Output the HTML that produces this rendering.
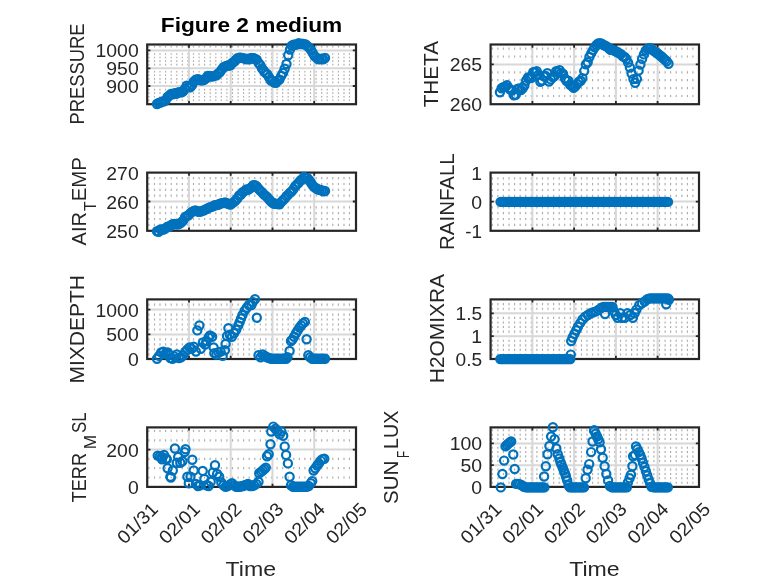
<!DOCTYPE html>
<html lang="en"><head><meta charset="utf-8"><title>Figure 2 medium</title>
<style>html,body{margin:0;padding:0;background:#fff}body{width:778px;height:583px;overflow:hidden}svg{display:block}</style>
</head><body>
<svg width="778" height="583" viewBox="0 0 778 583" font-family="'Liberation Sans', sans-serif" fill="#262626">
<rect width="778" height="583" fill="#fff"/>
<g>
<path d="M148.9 46.0v1.6M148.9 53.2v1.6M148.9 56.7v1.6M148.9 60.3v1.6M148.9 63.8v1.6M148.9 71.0v1.6M148.9 74.5v1.6M148.9 78.1v1.6M148.9 81.6v1.6M148.9 88.8v1.6M148.9 92.3v1.6M148.9 95.9v1.6M148.9 99.4v1.6M154.5 46.0v1.6M154.5 53.2v1.6M154.5 56.7v1.6M154.5 60.3v1.6M154.5 63.8v1.6M154.5 71.0v1.6M154.5 74.5v1.6M154.5 78.1v1.6M154.5 81.6v1.6M154.5 88.8v1.6M154.5 92.3v1.6M154.5 95.9v1.6M154.5 99.4v1.6M160.0 46.0v1.6M160.0 53.2v1.6M160.0 56.7v1.6M160.0 60.3v1.6M160.0 63.8v1.6M160.0 71.0v1.6M160.0 74.5v1.6M160.0 78.1v1.6M160.0 81.6v1.6M160.0 88.8v1.6M160.0 92.3v1.6M160.0 95.9v1.6M160.0 99.4v1.6M165.6 46.0v1.6M165.6 53.2v1.6M165.6 56.7v1.6M165.6 60.3v1.6M165.6 63.8v1.6M165.6 71.0v1.6M165.6 74.5v1.6M165.6 78.1v1.6M165.6 81.6v1.6M165.6 88.8v1.6M165.6 92.3v1.6M165.6 95.9v1.6M165.6 99.4v1.6M171.2 46.0v1.6M171.2 53.2v1.6M171.2 56.7v1.6M171.2 60.3v1.6M171.2 63.8v1.6M171.2 71.0v1.6M171.2 74.5v1.6M171.2 78.1v1.6M171.2 81.6v1.6M171.2 88.8v1.6M171.2 92.3v1.6M171.2 95.9v1.6M171.2 99.4v1.6M176.8 46.0v1.6M176.8 53.2v1.6M176.8 56.7v1.6M176.8 60.3v1.6M176.8 63.8v1.6M176.8 71.0v1.6M176.8 74.5v1.6M176.8 78.1v1.6M176.8 81.6v1.6M176.8 88.8v1.6M176.8 92.3v1.6M176.8 95.9v1.6M176.8 99.4v1.6M182.3 46.0v1.6M182.3 53.2v1.6M182.3 56.7v1.6M182.3 60.3v1.6M182.3 63.8v1.6M182.3 71.0v1.6M182.3 74.5v1.6M182.3 78.1v1.6M182.3 81.6v1.6M182.3 88.8v1.6M182.3 92.3v1.6M182.3 95.9v1.6M182.3 99.4v1.6M187.9 46.0v1.6M187.9 53.2v1.6M187.9 56.7v1.6M187.9 60.3v1.6M187.9 63.8v1.6M187.9 71.0v1.6M187.9 74.5v1.6M187.9 78.1v1.6M187.9 81.6v1.6M187.9 88.8v1.6M187.9 92.3v1.6M187.9 95.9v1.6M187.9 99.4v1.6M193.5 46.0v1.6M193.5 53.2v1.6M193.5 56.7v1.6M193.5 60.3v1.6M193.5 63.8v1.6M193.5 71.0v1.6M193.5 74.5v1.6M193.5 78.1v1.6M193.5 81.6v1.6M193.5 88.8v1.6M193.5 92.3v1.6M193.5 95.9v1.6M193.5 99.4v1.6M199.1 46.0v1.6M199.1 53.2v1.6M199.1 56.7v1.6M199.1 60.3v1.6M199.1 63.8v1.6M199.1 71.0v1.6M199.1 74.5v1.6M199.1 78.1v1.6M199.1 81.6v1.6M199.1 88.8v1.6M199.1 92.3v1.6M199.1 95.9v1.6M199.1 99.4v1.6M204.6 46.0v1.6M204.6 53.2v1.6M204.6 56.7v1.6M204.6 60.3v1.6M204.6 63.8v1.6M204.6 71.0v1.6M204.6 74.5v1.6M204.6 78.1v1.6M204.6 81.6v1.6M204.6 88.8v1.6M204.6 92.3v1.6M204.6 95.9v1.6M204.6 99.4v1.6M210.2 46.0v1.6M210.2 53.2v1.6M210.2 56.7v1.6M210.2 60.3v1.6M210.2 63.8v1.6M210.2 71.0v1.6M210.2 74.5v1.6M210.2 78.1v1.6M210.2 81.6v1.6M210.2 88.8v1.6M210.2 92.3v1.6M210.2 95.9v1.6M210.2 99.4v1.6M215.8 46.0v1.6M215.8 53.2v1.6M215.8 56.7v1.6M215.8 60.3v1.6M215.8 63.8v1.6M215.8 71.0v1.6M215.8 74.5v1.6M215.8 78.1v1.6M215.8 81.6v1.6M215.8 88.8v1.6M215.8 92.3v1.6M215.8 95.9v1.6M215.8 99.4v1.6M221.3 46.0v1.6M221.3 53.2v1.6M221.3 56.7v1.6M221.3 60.3v1.6M221.3 63.8v1.6M221.3 71.0v1.6M221.3 74.5v1.6M221.3 78.1v1.6M221.3 81.6v1.6M221.3 88.8v1.6M221.3 92.3v1.6M221.3 95.9v1.6M221.3 99.4v1.6M226.9 46.0v1.6M226.9 53.2v1.6M226.9 56.7v1.6M226.9 60.3v1.6M226.9 63.8v1.6M226.9 71.0v1.6M226.9 74.5v1.6M226.9 78.1v1.6M226.9 81.6v1.6M226.9 88.8v1.6M226.9 92.3v1.6M226.9 95.9v1.6M226.9 99.4v1.6M232.5 46.0v1.6M232.5 53.2v1.6M232.5 56.7v1.6M232.5 60.3v1.6M232.5 63.8v1.6M232.5 71.0v1.6M232.5 74.5v1.6M232.5 78.1v1.6M232.5 81.6v1.6M232.5 88.8v1.6M232.5 92.3v1.6M232.5 95.9v1.6M232.5 99.4v1.6M238.1 46.0v1.6M238.1 53.2v1.6M238.1 56.7v1.6M238.1 60.3v1.6M238.1 63.8v1.6M238.1 71.0v1.6M238.1 74.5v1.6M238.1 78.1v1.6M238.1 81.6v1.6M238.1 88.8v1.6M238.1 92.3v1.6M238.1 95.9v1.6M238.1 99.4v1.6M243.6 46.0v1.6M243.6 53.2v1.6M243.6 56.7v1.6M243.6 60.3v1.6M243.6 63.8v1.6M243.6 71.0v1.6M243.6 74.5v1.6M243.6 78.1v1.6M243.6 81.6v1.6M243.6 88.8v1.6M243.6 92.3v1.6M243.6 95.9v1.6M243.6 99.4v1.6M249.2 46.0v1.6M249.2 53.2v1.6M249.2 56.7v1.6M249.2 60.3v1.6M249.2 63.8v1.6M249.2 71.0v1.6M249.2 74.5v1.6M249.2 78.1v1.6M249.2 81.6v1.6M249.2 88.8v1.6M249.2 92.3v1.6M249.2 95.9v1.6M249.2 99.4v1.6M254.8 46.0v1.6M254.8 53.2v1.6M254.8 56.7v1.6M254.8 60.3v1.6M254.8 63.8v1.6M254.8 71.0v1.6M254.8 74.5v1.6M254.8 78.1v1.6M254.8 81.6v1.6M254.8 88.8v1.6M254.8 92.3v1.6M254.8 95.9v1.6M254.8 99.4v1.6M260.4 46.0v1.6M260.4 53.2v1.6M260.4 56.7v1.6M260.4 60.3v1.6M260.4 63.8v1.6M260.4 71.0v1.6M260.4 74.5v1.6M260.4 78.1v1.6M260.4 81.6v1.6M260.4 88.8v1.6M260.4 92.3v1.6M260.4 95.9v1.6M260.4 99.4v1.6M265.9 46.0v1.6M265.9 53.2v1.6M265.9 56.7v1.6M265.9 60.3v1.6M265.9 63.8v1.6M265.9 71.0v1.6M265.9 74.5v1.6M265.9 78.1v1.6M265.9 81.6v1.6M265.9 88.8v1.6M265.9 92.3v1.6M265.9 95.9v1.6M265.9 99.4v1.6M271.5 46.0v1.6M271.5 53.2v1.6M271.5 56.7v1.6M271.5 60.3v1.6M271.5 63.8v1.6M271.5 71.0v1.6M271.5 74.5v1.6M271.5 78.1v1.6M271.5 81.6v1.6M271.5 88.8v1.6M271.5 92.3v1.6M271.5 95.9v1.6M271.5 99.4v1.6M277.1 46.0v1.6M277.1 53.2v1.6M277.1 56.7v1.6M277.1 60.3v1.6M277.1 63.8v1.6M277.1 71.0v1.6M277.1 74.5v1.6M277.1 78.1v1.6M277.1 81.6v1.6M277.1 88.8v1.6M277.1 92.3v1.6M277.1 95.9v1.6M277.1 99.4v1.6M282.7 46.0v1.6M282.7 53.2v1.6M282.7 56.7v1.6M282.7 60.3v1.6M282.7 63.8v1.6M282.7 71.0v1.6M282.7 74.5v1.6M282.7 78.1v1.6M282.7 81.6v1.6M282.7 88.8v1.6M282.7 92.3v1.6M282.7 95.9v1.6M282.7 99.4v1.6M288.2 46.0v1.6M288.2 53.2v1.6M288.2 56.7v1.6M288.2 60.3v1.6M288.2 63.8v1.6M288.2 71.0v1.6M288.2 74.5v1.6M288.2 78.1v1.6M288.2 81.6v1.6M288.2 88.8v1.6M288.2 92.3v1.6M288.2 95.9v1.6M288.2 99.4v1.6M293.8 46.0v1.6M293.8 53.2v1.6M293.8 56.7v1.6M293.8 60.3v1.6M293.8 63.8v1.6M293.8 71.0v1.6M293.8 74.5v1.6M293.8 78.1v1.6M293.8 81.6v1.6M293.8 88.8v1.6M293.8 92.3v1.6M293.8 95.9v1.6M293.8 99.4v1.6M299.4 46.0v1.6M299.4 53.2v1.6M299.4 56.7v1.6M299.4 60.3v1.6M299.4 63.8v1.6M299.4 71.0v1.6M299.4 74.5v1.6M299.4 78.1v1.6M299.4 81.6v1.6M299.4 88.8v1.6M299.4 92.3v1.6M299.4 95.9v1.6M299.4 99.4v1.6M304.9 46.0v1.6M304.9 53.2v1.6M304.9 56.7v1.6M304.9 60.3v1.6M304.9 63.8v1.6M304.9 71.0v1.6M304.9 74.5v1.6M304.9 78.1v1.6M304.9 81.6v1.6M304.9 88.8v1.6M304.9 92.3v1.6M304.9 95.9v1.6M304.9 99.4v1.6M310.5 46.0v1.6M310.5 53.2v1.6M310.5 56.7v1.6M310.5 60.3v1.6M310.5 63.8v1.6M310.5 71.0v1.6M310.5 74.5v1.6M310.5 78.1v1.6M310.5 81.6v1.6M310.5 88.8v1.6M310.5 92.3v1.6M310.5 95.9v1.6M310.5 99.4v1.6M316.1 46.0v1.6M316.1 53.2v1.6M316.1 56.7v1.6M316.1 60.3v1.6M316.1 63.8v1.6M316.1 71.0v1.6M316.1 74.5v1.6M316.1 78.1v1.6M316.1 81.6v1.6M316.1 88.8v1.6M316.1 92.3v1.6M316.1 95.9v1.6M316.1 99.4v1.6M321.7 46.0v1.6M321.7 53.2v1.6M321.7 56.7v1.6M321.7 60.3v1.6M321.7 63.8v1.6M321.7 71.0v1.6M321.7 74.5v1.6M321.7 78.1v1.6M321.7 81.6v1.6M321.7 88.8v1.6M321.7 92.3v1.6M321.7 95.9v1.6M321.7 99.4v1.6M327.2 46.0v1.6M327.2 53.2v1.6M327.2 56.7v1.6M327.2 60.3v1.6M327.2 63.8v1.6M327.2 71.0v1.6M327.2 74.5v1.6M327.2 78.1v1.6M327.2 81.6v1.6M327.2 88.8v1.6M327.2 92.3v1.6M327.2 95.9v1.6M327.2 99.4v1.6M332.8 46.0v1.6M332.8 53.2v1.6M332.8 56.7v1.6M332.8 60.3v1.6M332.8 63.8v1.6M332.8 71.0v1.6M332.8 74.5v1.6M332.8 78.1v1.6M332.8 81.6v1.6M332.8 88.8v1.6M332.8 92.3v1.6M332.8 95.9v1.6M332.8 99.4v1.6M338.4 46.0v1.6M338.4 53.2v1.6M338.4 56.7v1.6M338.4 60.3v1.6M338.4 63.8v1.6M338.4 71.0v1.6M338.4 74.5v1.6M338.4 78.1v1.6M338.4 81.6v1.6M338.4 88.8v1.6M338.4 92.3v1.6M338.4 95.9v1.6M338.4 99.4v1.6M344.0 46.0v1.6M344.0 53.2v1.6M344.0 56.7v1.6M344.0 60.3v1.6M344.0 63.8v1.6M344.0 71.0v1.6M344.0 74.5v1.6M344.0 78.1v1.6M344.0 81.6v1.6M344.0 88.8v1.6M344.0 92.3v1.6M344.0 95.9v1.6M344.0 99.4v1.6M349.5 46.0v1.6M349.5 53.2v1.6M349.5 56.7v1.6M349.5 60.3v1.6M349.5 63.8v1.6M349.5 71.0v1.6M349.5 74.5v1.6M349.5 78.1v1.6M349.5 81.6v1.6M349.5 88.8v1.6M349.5 92.3v1.6M349.5 95.9v1.6M349.5 99.4v1.6" stroke="#b2b2b2" stroke-width="1.2" fill="none"/>
<path d="M148.9 44.5V104.2M154.5 44.5V104.2M160.0 44.5V104.2M165.6 44.5V104.2M171.2 44.5V104.2M176.8 44.5V104.2M182.3 44.5V104.2M187.9 44.5V104.2M193.5 44.5V104.2M199.1 44.5V104.2M204.6 44.5V104.2M210.2 44.5V104.2M215.8 44.5V104.2M221.3 44.5V104.2M226.9 44.5V104.2M232.5 44.5V104.2M238.1 44.5V104.2M243.6 44.5V104.2M249.2 44.5V104.2M254.8 44.5V104.2M260.4 44.5V104.2M265.9 44.5V104.2M271.5 44.5V104.2M277.1 44.5V104.2M282.7 44.5V104.2M288.2 44.5V104.2M293.8 44.5V104.2M299.4 44.5V104.2M304.9 44.5V104.2M310.5 44.5V104.2M316.1 44.5V104.2M321.7 44.5V104.2M327.2 44.5V104.2M332.8 44.5V104.2M338.4 44.5V104.2M344.0 44.5V104.2M349.5 44.5V104.2" stroke="#000" stroke-width="1" fill="none" opacity="0.015"/>
<path d="M189.0 44.5V104.2M230.7 44.5V104.2M272.5 44.5V104.2M314.2 44.5V104.2M147.2 50.4H356.0M147.2 68.3H356.0M147.2 86.0H356.0" stroke="#d8d8d8" stroke-width="2" fill="none"/>
<path d="M189.0 44.5v3.2M189.0 104.2v-3.2M230.7 44.5v3.2M230.7 104.2v-3.2M272.5 44.5v3.2M272.5 104.2v-3.2M314.2 44.5v3.2M314.2 104.2v-3.2M147.2 50.4h3.2M356.0 50.4h-3.2M147.2 68.3h3.2M356.0 68.3h-3.2M147.2 86.0h3.2M356.0 86.0h-3.2" stroke="#262626" stroke-width="1.8" fill="none"/>
<rect x="147.2" y="44.5" width="208.8" height="59.7" fill="none" stroke="#262626" stroke-width="2.2"/>
<g fill="none" stroke="#0072BD" stroke-width="2.2">
<circle cx="157.0" cy="104.0" r="4.1"/><circle cx="158.7" cy="103.0" r="4.1"/><circle cx="160.5" cy="102.5" r="4.1"/><circle cx="162.2" cy="101.6" r="4.1"/><circle cx="164.0" cy="101.3" r="4.1"/><circle cx="165.7" cy="100.2" r="4.1"/><circle cx="167.5" cy="97.0" r="4.1"/><circle cx="169.2" cy="95.6" r="4.1"/><circle cx="171.0" cy="94.0" r="4.1"/><circle cx="172.7" cy="94.3" r="4.1"/><circle cx="174.5" cy="93.3" r="4.1"/><circle cx="176.2" cy="93.7" r="4.1"/><circle cx="178.0" cy="92.4" r="4.1"/><circle cx="179.7" cy="92.2" r="4.1"/><circle cx="181.5" cy="92.2" r="4.1"/><circle cx="183.2" cy="91.3" r="4.1"/><circle cx="185.0" cy="88.7" r="4.1"/><circle cx="186.7" cy="85.7" r="4.1"/><circle cx="188.5" cy="86.9" r="4.1"/><circle cx="190.2" cy="87.4" r="4.1"/><circle cx="192.0" cy="85.3" r="4.1"/><circle cx="193.7" cy="81.7" r="4.1"/><circle cx="195.5" cy="80.0" r="4.1"/><circle cx="197.2" cy="79.3" r="4.1"/><circle cx="199.0" cy="79.4" r="4.1"/><circle cx="200.7" cy="80.4" r="4.1"/><circle cx="202.5" cy="80.4" r="4.1"/><circle cx="204.2" cy="79.9" r="4.1"/><circle cx="206.0" cy="78.2" r="4.1"/><circle cx="207.7" cy="76.0" r="4.1"/><circle cx="209.5" cy="76.0" r="4.1"/><circle cx="211.2" cy="76.6" r="4.1"/><circle cx="213.0" cy="76.3" r="4.1"/><circle cx="214.7" cy="75.6" r="4.1"/><circle cx="216.5" cy="75.3" r="4.1"/><circle cx="218.2" cy="73.5" r="4.1"/><circle cx="220.0" cy="72.1" r="4.1"/><circle cx="221.7" cy="69.6" r="4.1"/><circle cx="223.5" cy="67.2" r="4.1"/><circle cx="225.2" cy="66.4" r="4.1"/><circle cx="227.0" cy="65.8" r="4.1"/><circle cx="228.7" cy="65.5" r="4.1"/><circle cx="230.5" cy="65.2" r="4.1"/><circle cx="232.2" cy="63.0" r="4.1"/><circle cx="234.0" cy="61.9" r="4.1"/><circle cx="235.7" cy="60.0" r="4.1"/><circle cx="237.5" cy="58.2" r="4.1"/><circle cx="239.2" cy="57.8" r="4.1"/><circle cx="241.0" cy="57.8" r="4.1"/><circle cx="242.7" cy="58.1" r="4.1"/><circle cx="244.5" cy="58.4" r="4.1"/><circle cx="246.2" cy="59.2" r="4.1"/><circle cx="248.0" cy="58.6" r="4.1"/><circle cx="249.7" cy="59.3" r="4.1"/><circle cx="251.5" cy="58.0" r="4.1"/><circle cx="253.2" cy="58.2" r="4.1"/><circle cx="255.0" cy="58.6" r="4.1"/><circle cx="256.7" cy="59.7" r="4.1"/><circle cx="258.5" cy="62.9" r="4.1"/><circle cx="260.2" cy="64.9" r="4.1"/><circle cx="262.0" cy="68.4" r="4.1"/><circle cx="263.7" cy="70.7" r="4.1"/><circle cx="265.5" cy="72.9" r="4.1"/><circle cx="267.2" cy="74.3" r="4.1"/><circle cx="269.0" cy="77.3" r="4.1"/><circle cx="270.7" cy="80.3" r="4.1"/><circle cx="272.5" cy="81.1" r="4.1"/><circle cx="274.2" cy="82.6" r="4.1"/><circle cx="276.0" cy="82.8" r="4.1"/><circle cx="277.7" cy="80.5" r="4.1"/><circle cx="279.5" cy="79.6" r="4.1"/><circle cx="281.2" cy="75.9" r="4.1"/><circle cx="283.0" cy="72.9" r="4.1"/><circle cx="284.7" cy="68.7" r="4.1"/><circle cx="286.5" cy="64.0" r="4.1"/><circle cx="288.2" cy="55.3" r="4.1"/><circle cx="290.0" cy="49.5" r="4.1"/><circle cx="291.7" cy="45.7" r="4.1"/><circle cx="293.5" cy="44.7" r="4.1"/><circle cx="295.2" cy="44.7" r="4.1"/><circle cx="297.0" cy="44.2" r="4.1"/><circle cx="298.7" cy="43.2" r="4.1"/><circle cx="300.5" cy="44.1" r="4.1"/><circle cx="302.2" cy="43.6" r="4.1"/><circle cx="304.0" cy="44.2" r="4.1"/><circle cx="305.7" cy="44.5" r="4.1"/><circle cx="307.5" cy="46.1" r="4.1"/><circle cx="309.2" cy="47.8" r="4.1"/><circle cx="311.0" cy="49.9" r="4.1"/><circle cx="312.7" cy="52.9" r="4.1"/><circle cx="314.5" cy="56.0" r="4.1"/><circle cx="316.2" cy="57.4" r="4.1"/><circle cx="318.0" cy="59.0" r="4.1"/><circle cx="319.7" cy="59.4" r="4.1"/><circle cx="321.5" cy="58.6" r="4.1"/><circle cx="323.2" cy="59.2" r="4.1"/><circle cx="325.0" cy="58.0" r="4.1"/>
</g>
<text x="138.7" y="57.4" font-size="18.6" text-anchor="end" textLength="43.2" lengthAdjust="spacingAndGlyphs">1000</text>
<text x="138.7" y="75.3" font-size="18.6" text-anchor="end" textLength="32.4" lengthAdjust="spacingAndGlyphs">950</text>
<text x="138.7" y="93.0" font-size="18.6" text-anchor="end" textLength="32.4" lengthAdjust="spacingAndGlyphs">900</text>
</g>
<g>
<path d="M492.3 47.5v2.2M492.3 55.4v2.2M492.3 71.2v2.2M492.3 79.1v2.2M492.3 87.0v2.2M492.3 94.9v2.2M497.9 47.5v2.2M497.9 55.4v2.2M497.9 71.2v2.2M497.9 79.1v2.2M497.9 87.0v2.2M497.9 94.9v2.2M503.4 47.5v2.2M503.4 55.4v2.2M503.4 71.2v2.2M503.4 79.1v2.2M503.4 87.0v2.2M503.4 94.9v2.2M509.0 47.5v2.2M509.0 55.4v2.2M509.0 71.2v2.2M509.0 79.1v2.2M509.0 87.0v2.2M509.0 94.9v2.2M514.6 47.5v2.2M514.6 55.4v2.2M514.6 71.2v2.2M514.6 79.1v2.2M514.6 87.0v2.2M514.6 94.9v2.2M520.2 47.5v2.2M520.2 55.4v2.2M520.2 71.2v2.2M520.2 79.1v2.2M520.2 87.0v2.2M520.2 94.9v2.2M525.7 47.5v2.2M525.7 55.4v2.2M525.7 71.2v2.2M525.7 79.1v2.2M525.7 87.0v2.2M525.7 94.9v2.2M531.3 47.5v2.2M531.3 55.4v2.2M531.3 71.2v2.2M531.3 79.1v2.2M531.3 87.0v2.2M531.3 94.9v2.2M536.9 47.5v2.2M536.9 55.4v2.2M536.9 71.2v2.2M536.9 79.1v2.2M536.9 87.0v2.2M536.9 94.9v2.2M542.5 47.5v2.2M542.5 55.4v2.2M542.5 71.2v2.2M542.5 79.1v2.2M542.5 87.0v2.2M542.5 94.9v2.2M548.0 47.5v2.2M548.0 55.4v2.2M548.0 71.2v2.2M548.0 79.1v2.2M548.0 87.0v2.2M548.0 94.9v2.2M553.6 47.5v2.2M553.6 55.4v2.2M553.6 71.2v2.2M553.6 79.1v2.2M553.6 87.0v2.2M553.6 94.9v2.2M559.2 47.5v2.2M559.2 55.4v2.2M559.2 71.2v2.2M559.2 79.1v2.2M559.2 87.0v2.2M559.2 94.9v2.2M564.7 47.5v2.2M564.7 55.4v2.2M564.7 71.2v2.2M564.7 79.1v2.2M564.7 87.0v2.2M564.7 94.9v2.2M570.3 47.5v2.2M570.3 55.4v2.2M570.3 71.2v2.2M570.3 79.1v2.2M570.3 87.0v2.2M570.3 94.9v2.2M575.9 47.5v2.2M575.9 55.4v2.2M575.9 71.2v2.2M575.9 79.1v2.2M575.9 87.0v2.2M575.9 94.9v2.2M581.5 47.5v2.2M581.5 55.4v2.2M581.5 71.2v2.2M581.5 79.1v2.2M581.5 87.0v2.2M581.5 94.9v2.2M587.0 47.5v2.2M587.0 55.4v2.2M587.0 71.2v2.2M587.0 79.1v2.2M587.0 87.0v2.2M587.0 94.9v2.2M592.6 47.5v2.2M592.6 55.4v2.2M592.6 71.2v2.2M592.6 79.1v2.2M592.6 87.0v2.2M592.6 94.9v2.2M598.2 47.5v2.2M598.2 55.4v2.2M598.2 71.2v2.2M598.2 79.1v2.2M598.2 87.0v2.2M598.2 94.9v2.2M603.8 47.5v2.2M603.8 55.4v2.2M603.8 71.2v2.2M603.8 79.1v2.2M603.8 87.0v2.2M603.8 94.9v2.2M609.3 47.5v2.2M609.3 55.4v2.2M609.3 71.2v2.2M609.3 79.1v2.2M609.3 87.0v2.2M609.3 94.9v2.2M614.9 47.5v2.2M614.9 55.4v2.2M614.9 71.2v2.2M614.9 79.1v2.2M614.9 87.0v2.2M614.9 94.9v2.2M620.5 47.5v2.2M620.5 55.4v2.2M620.5 71.2v2.2M620.5 79.1v2.2M620.5 87.0v2.2M620.5 94.9v2.2M626.1 47.5v2.2M626.1 55.4v2.2M626.1 71.2v2.2M626.1 79.1v2.2M626.1 87.0v2.2M626.1 94.9v2.2M631.6 47.5v2.2M631.6 55.4v2.2M631.6 71.2v2.2M631.6 79.1v2.2M631.6 87.0v2.2M631.6 94.9v2.2M637.2 47.5v2.2M637.2 55.4v2.2M637.2 71.2v2.2M637.2 79.1v2.2M637.2 87.0v2.2M637.2 94.9v2.2M642.8 47.5v2.2M642.8 55.4v2.2M642.8 71.2v2.2M642.8 79.1v2.2M642.8 87.0v2.2M642.8 94.9v2.2M648.3 47.5v2.2M648.3 55.4v2.2M648.3 71.2v2.2M648.3 79.1v2.2M648.3 87.0v2.2M648.3 94.9v2.2M653.9 47.5v2.2M653.9 55.4v2.2M653.9 71.2v2.2M653.9 79.1v2.2M653.9 87.0v2.2M653.9 94.9v2.2M659.5 47.5v2.2M659.5 55.4v2.2M659.5 71.2v2.2M659.5 79.1v2.2M659.5 87.0v2.2M659.5 94.9v2.2M665.1 47.5v2.2M665.1 55.4v2.2M665.1 71.2v2.2M665.1 79.1v2.2M665.1 87.0v2.2M665.1 94.9v2.2M670.6 47.5v2.2M670.6 55.4v2.2M670.6 71.2v2.2M670.6 79.1v2.2M670.6 87.0v2.2M670.6 94.9v2.2M676.2 47.5v2.2M676.2 55.4v2.2M676.2 71.2v2.2M676.2 79.1v2.2M676.2 87.0v2.2M676.2 94.9v2.2M681.8 47.5v2.2M681.8 55.4v2.2M681.8 71.2v2.2M681.8 79.1v2.2M681.8 87.0v2.2M681.8 94.9v2.2M687.4 47.5v2.2M687.4 55.4v2.2M687.4 71.2v2.2M687.4 79.1v2.2M687.4 87.0v2.2M687.4 94.9v2.2M692.9 47.5v2.2M692.9 55.4v2.2M692.9 71.2v2.2M692.9 79.1v2.2M692.9 87.0v2.2M692.9 94.9v2.2" stroke="#b2b2b2" stroke-width="1.2" fill="none"/>
<path d="M492.3 44.5V104.2M497.9 44.5V104.2M503.4 44.5V104.2M509.0 44.5V104.2M514.6 44.5V104.2M520.2 44.5V104.2M525.7 44.5V104.2M531.3 44.5V104.2M536.9 44.5V104.2M542.5 44.5V104.2M548.0 44.5V104.2M553.6 44.5V104.2M559.2 44.5V104.2M564.7 44.5V104.2M570.3 44.5V104.2M575.9 44.5V104.2M581.5 44.5V104.2M587.0 44.5V104.2M592.6 44.5V104.2M598.2 44.5V104.2M603.8 44.5V104.2M609.3 44.5V104.2M614.9 44.5V104.2M620.5 44.5V104.2M626.1 44.5V104.2M631.6 44.5V104.2M637.2 44.5V104.2M642.8 44.5V104.2M648.3 44.5V104.2M653.9 44.5V104.2M659.5 44.5V104.2M665.1 44.5V104.2M670.6 44.5V104.2M676.2 44.5V104.2M681.8 44.5V104.2M687.4 44.5V104.2M692.9 44.5V104.2" stroke="#000" stroke-width="1" fill="none" opacity="0.015"/>
<path d="M532.4 44.5V104.2M574.1 44.5V104.2M615.9 44.5V104.2M657.6 44.5V104.2M490.6 64.4H699.0" stroke="#d8d8d8" stroke-width="2" fill="none"/>
<path d="M532.4 44.5v3.2M532.4 104.2v-3.2M574.1 44.5v3.2M574.1 104.2v-3.2M615.9 44.5v3.2M615.9 104.2v-3.2M657.6 44.5v3.2M657.6 104.2v-3.2M490.6 64.4h3.2M699.0 64.4h-3.2" stroke="#262626" stroke-width="1.8" fill="none"/>
<rect x="490.6" y="44.5" width="208.4" height="59.7" fill="none" stroke="#262626" stroke-width="2.2"/>
<g fill="none" stroke="#0072BD" stroke-width="2.2">
<circle cx="499.9" cy="92.3" r="4.1"/><circle cx="501.6" cy="88.2" r="4.1"/><circle cx="503.4" cy="87.3" r="4.1"/><circle cx="505.1" cy="86.6" r="4.1"/><circle cx="506.9" cy="85.3" r="4.1"/><circle cx="508.6" cy="87.9" r="4.1"/><circle cx="510.4" cy="89.9" r="4.1"/><circle cx="512.1" cy="90.5" r="4.1"/><circle cx="513.9" cy="95.3" r="4.1"/><circle cx="515.7" cy="94.7" r="4.1"/><circle cx="517.4" cy="89.0" r="4.1"/><circle cx="519.2" cy="88.4" r="4.1"/><circle cx="520.9" cy="90.0" r="4.1"/><circle cx="522.7" cy="88.3" r="4.1"/><circle cx="524.4" cy="85.6" r="4.1"/><circle cx="526.2" cy="80.5" r="4.1"/><circle cx="528.0" cy="77.5" r="4.1"/><circle cx="529.7" cy="77.6" r="4.1"/><circle cx="531.5" cy="77.7" r="4.1"/><circle cx="533.2" cy="72.2" r="4.1"/><circle cx="535.0" cy="72.2" r="4.1"/><circle cx="536.7" cy="71.1" r="4.1"/><circle cx="538.5" cy="74.8" r="4.1"/><circle cx="540.3" cy="81.7" r="4.1"/><circle cx="542.0" cy="80.6" r="4.1"/><circle cx="543.8" cy="76.4" r="4.1"/><circle cx="545.5" cy="76.0" r="4.1"/><circle cx="547.3" cy="73.2" r="4.1"/><circle cx="549.0" cy="81.6" r="4.1"/><circle cx="550.8" cy="79.4" r="4.1"/><circle cx="552.6" cy="77.1" r="4.1"/><circle cx="554.3" cy="76.4" r="4.1"/><circle cx="556.1" cy="71.3" r="4.1"/><circle cx="557.8" cy="72.0" r="4.1"/><circle cx="559.6" cy="70.1" r="4.1"/><circle cx="561.3" cy="72.7" r="4.1"/><circle cx="563.1" cy="73.9" r="4.1"/><circle cx="564.9" cy="78.6" r="4.1"/><circle cx="566.6" cy="81.0" r="4.1"/><circle cx="568.4" cy="80.8" r="4.1"/><circle cx="570.1" cy="84.7" r="4.1"/><circle cx="571.9" cy="85.8" r="4.1"/><circle cx="573.6" cy="87.9" r="4.1"/><circle cx="575.4" cy="86.2" r="4.1"/><circle cx="577.1" cy="84.1" r="4.1"/><circle cx="578.9" cy="81.8" r="4.1"/><circle cx="580.7" cy="80.7" r="4.1"/><circle cx="582.4" cy="78.1" r="4.1"/><circle cx="584.2" cy="71.1" r="4.1"/><circle cx="585.9" cy="64.4" r="4.1"/><circle cx="587.7" cy="62.2" r="4.1"/><circle cx="589.4" cy="57.0" r="4.1"/><circle cx="591.2" cy="53.4" r="4.1"/><circle cx="593.0" cy="50.1" r="4.1"/><circle cx="594.7" cy="47.4" r="4.1"/><circle cx="596.5" cy="45.0" r="4.1"/><circle cx="598.2" cy="43.5" r="4.1"/><circle cx="600.0" cy="43.3" r="4.1"/><circle cx="601.7" cy="43.8" r="4.1"/><circle cx="603.5" cy="45.0" r="4.1"/><circle cx="605.3" cy="45.8" r="4.1"/><circle cx="607.0" cy="46.6" r="4.1"/><circle cx="608.8" cy="48.2" r="4.1"/><circle cx="610.5" cy="49.8" r="4.1"/><circle cx="612.3" cy="49.8" r="4.1"/><circle cx="614.0" cy="50.5" r="4.1"/><circle cx="615.8" cy="51.3" r="4.1"/><circle cx="617.6" cy="52.2" r="4.1"/><circle cx="619.3" cy="53.4" r="4.1"/><circle cx="621.1" cy="54.1" r="4.1"/><circle cx="622.8" cy="56.4" r="4.1"/><circle cx="624.6" cy="57.0" r="4.1"/><circle cx="626.3" cy="58.9" r="4.1"/><circle cx="628.1" cy="62.6" r="4.1"/><circle cx="629.9" cy="67.5" r="4.1"/><circle cx="631.6" cy="73.6" r="4.1"/><circle cx="633.4" cy="79.1" r="4.1"/><circle cx="635.1" cy="82.7" r="4.1"/><circle cx="636.9" cy="78.9" r="4.1"/><circle cx="638.6" cy="70.6" r="4.1"/><circle cx="640.4" cy="64.5" r="4.1"/><circle cx="642.1" cy="58.9" r="4.1"/><circle cx="643.9" cy="54.4" r="4.1"/><circle cx="645.7" cy="50.6" r="4.1"/><circle cx="647.4" cy="49.0" r="4.1"/><circle cx="649.2" cy="48.2" r="4.1"/><circle cx="650.9" cy="48.4" r="4.1"/><circle cx="652.7" cy="50.1" r="4.1"/><circle cx="654.4" cy="51.4" r="4.1"/><circle cx="656.2" cy="52.5" r="4.1"/><circle cx="658.0" cy="53.8" r="4.1"/><circle cx="659.7" cy="55.3" r="4.1"/><circle cx="661.5" cy="56.5" r="4.1"/><circle cx="663.2" cy="58.3" r="4.1"/><circle cx="665.0" cy="59.7" r="4.1"/><circle cx="666.7" cy="61.3" r="4.1"/><circle cx="668.5" cy="63.8" r="4.1"/>
</g>
<text x="482.1" y="71.4" font-size="18.6" text-anchor="end" textLength="32.4" lengthAdjust="spacingAndGlyphs">265</text>
<text x="482.1" y="110.9" font-size="18.6" text-anchor="end" textLength="32.4" lengthAdjust="spacingAndGlyphs">260</text>
</g>
<g>
<path d="M148.9 177.1v2.2M148.9 182.9v2.2M148.9 188.8v2.2M148.9 194.6v2.2M148.9 206.2v2.2M148.9 212.0v2.2M148.9 217.9v2.2M148.9 223.7v2.2M154.5 177.1v2.2M154.5 182.9v2.2M154.5 188.8v2.2M154.5 194.6v2.2M154.5 206.2v2.2M154.5 212.0v2.2M154.5 217.9v2.2M154.5 223.7v2.2M160.0 177.1v2.2M160.0 182.9v2.2M160.0 188.8v2.2M160.0 194.6v2.2M160.0 206.2v2.2M160.0 212.0v2.2M160.0 217.9v2.2M160.0 223.7v2.2M165.6 177.1v2.2M165.6 182.9v2.2M165.6 188.8v2.2M165.6 194.6v2.2M165.6 206.2v2.2M165.6 212.0v2.2M165.6 217.9v2.2M165.6 223.7v2.2M171.2 177.1v2.2M171.2 182.9v2.2M171.2 188.8v2.2M171.2 194.6v2.2M171.2 206.2v2.2M171.2 212.0v2.2M171.2 217.9v2.2M171.2 223.7v2.2M176.8 177.1v2.2M176.8 182.9v2.2M176.8 188.8v2.2M176.8 194.6v2.2M176.8 206.2v2.2M176.8 212.0v2.2M176.8 217.9v2.2M176.8 223.7v2.2M182.3 177.1v2.2M182.3 182.9v2.2M182.3 188.8v2.2M182.3 194.6v2.2M182.3 206.2v2.2M182.3 212.0v2.2M182.3 217.9v2.2M182.3 223.7v2.2M187.9 177.1v2.2M187.9 182.9v2.2M187.9 188.8v2.2M187.9 194.6v2.2M187.9 206.2v2.2M187.9 212.0v2.2M187.9 217.9v2.2M187.9 223.7v2.2M193.5 177.1v2.2M193.5 182.9v2.2M193.5 188.8v2.2M193.5 194.6v2.2M193.5 206.2v2.2M193.5 212.0v2.2M193.5 217.9v2.2M193.5 223.7v2.2M199.1 177.1v2.2M199.1 182.9v2.2M199.1 188.8v2.2M199.1 194.6v2.2M199.1 206.2v2.2M199.1 212.0v2.2M199.1 217.9v2.2M199.1 223.7v2.2M204.6 177.1v2.2M204.6 182.9v2.2M204.6 188.8v2.2M204.6 194.6v2.2M204.6 206.2v2.2M204.6 212.0v2.2M204.6 217.9v2.2M204.6 223.7v2.2M210.2 177.1v2.2M210.2 182.9v2.2M210.2 188.8v2.2M210.2 194.6v2.2M210.2 206.2v2.2M210.2 212.0v2.2M210.2 217.9v2.2M210.2 223.7v2.2M215.8 177.1v2.2M215.8 182.9v2.2M215.8 188.8v2.2M215.8 194.6v2.2M215.8 206.2v2.2M215.8 212.0v2.2M215.8 217.9v2.2M215.8 223.7v2.2M221.3 177.1v2.2M221.3 182.9v2.2M221.3 188.8v2.2M221.3 194.6v2.2M221.3 206.2v2.2M221.3 212.0v2.2M221.3 217.9v2.2M221.3 223.7v2.2M226.9 177.1v2.2M226.9 182.9v2.2M226.9 188.8v2.2M226.9 194.6v2.2M226.9 206.2v2.2M226.9 212.0v2.2M226.9 217.9v2.2M226.9 223.7v2.2M232.5 177.1v2.2M232.5 182.9v2.2M232.5 188.8v2.2M232.5 194.6v2.2M232.5 206.2v2.2M232.5 212.0v2.2M232.5 217.9v2.2M232.5 223.7v2.2M238.1 177.1v2.2M238.1 182.9v2.2M238.1 188.8v2.2M238.1 194.6v2.2M238.1 206.2v2.2M238.1 212.0v2.2M238.1 217.9v2.2M238.1 223.7v2.2M243.6 177.1v2.2M243.6 182.9v2.2M243.6 188.8v2.2M243.6 194.6v2.2M243.6 206.2v2.2M243.6 212.0v2.2M243.6 217.9v2.2M243.6 223.7v2.2M249.2 177.1v2.2M249.2 182.9v2.2M249.2 188.8v2.2M249.2 194.6v2.2M249.2 206.2v2.2M249.2 212.0v2.2M249.2 217.9v2.2M249.2 223.7v2.2M254.8 177.1v2.2M254.8 182.9v2.2M254.8 188.8v2.2M254.8 194.6v2.2M254.8 206.2v2.2M254.8 212.0v2.2M254.8 217.9v2.2M254.8 223.7v2.2M260.4 177.1v2.2M260.4 182.9v2.2M260.4 188.8v2.2M260.4 194.6v2.2M260.4 206.2v2.2M260.4 212.0v2.2M260.4 217.9v2.2M260.4 223.7v2.2M265.9 177.1v2.2M265.9 182.9v2.2M265.9 188.8v2.2M265.9 194.6v2.2M265.9 206.2v2.2M265.9 212.0v2.2M265.9 217.9v2.2M265.9 223.7v2.2M271.5 177.1v2.2M271.5 182.9v2.2M271.5 188.8v2.2M271.5 194.6v2.2M271.5 206.2v2.2M271.5 212.0v2.2M271.5 217.9v2.2M271.5 223.7v2.2M277.1 177.1v2.2M277.1 182.9v2.2M277.1 188.8v2.2M277.1 194.6v2.2M277.1 206.2v2.2M277.1 212.0v2.2M277.1 217.9v2.2M277.1 223.7v2.2M282.7 177.1v2.2M282.7 182.9v2.2M282.7 188.8v2.2M282.7 194.6v2.2M282.7 206.2v2.2M282.7 212.0v2.2M282.7 217.9v2.2M282.7 223.7v2.2M288.2 177.1v2.2M288.2 182.9v2.2M288.2 188.8v2.2M288.2 194.6v2.2M288.2 206.2v2.2M288.2 212.0v2.2M288.2 217.9v2.2M288.2 223.7v2.2M293.8 177.1v2.2M293.8 182.9v2.2M293.8 188.8v2.2M293.8 194.6v2.2M293.8 206.2v2.2M293.8 212.0v2.2M293.8 217.9v2.2M293.8 223.7v2.2M299.4 177.1v2.2M299.4 182.9v2.2M299.4 188.8v2.2M299.4 194.6v2.2M299.4 206.2v2.2M299.4 212.0v2.2M299.4 217.9v2.2M299.4 223.7v2.2M304.9 177.1v2.2M304.9 182.9v2.2M304.9 188.8v2.2M304.9 194.6v2.2M304.9 206.2v2.2M304.9 212.0v2.2M304.9 217.9v2.2M304.9 223.7v2.2M310.5 177.1v2.2M310.5 182.9v2.2M310.5 188.8v2.2M310.5 194.6v2.2M310.5 206.2v2.2M310.5 212.0v2.2M310.5 217.9v2.2M310.5 223.7v2.2M316.1 177.1v2.2M316.1 182.9v2.2M316.1 188.8v2.2M316.1 194.6v2.2M316.1 206.2v2.2M316.1 212.0v2.2M316.1 217.9v2.2M316.1 223.7v2.2M321.7 177.1v2.2M321.7 182.9v2.2M321.7 188.8v2.2M321.7 194.6v2.2M321.7 206.2v2.2M321.7 212.0v2.2M321.7 217.9v2.2M321.7 223.7v2.2M327.2 177.1v2.2M327.2 182.9v2.2M327.2 188.8v2.2M327.2 194.6v2.2M327.2 206.2v2.2M327.2 212.0v2.2M327.2 217.9v2.2M327.2 223.7v2.2M332.8 177.1v2.2M332.8 182.9v2.2M332.8 188.8v2.2M332.8 194.6v2.2M332.8 206.2v2.2M332.8 212.0v2.2M332.8 217.9v2.2M332.8 223.7v2.2M338.4 177.1v2.2M338.4 182.9v2.2M338.4 188.8v2.2M338.4 194.6v2.2M338.4 206.2v2.2M338.4 212.0v2.2M338.4 217.9v2.2M338.4 223.7v2.2M344.0 177.1v2.2M344.0 182.9v2.2M344.0 188.8v2.2M344.0 194.6v2.2M344.0 206.2v2.2M344.0 212.0v2.2M344.0 217.9v2.2M344.0 223.7v2.2M349.5 177.1v2.2M349.5 182.9v2.2M349.5 188.8v2.2M349.5 194.6v2.2M349.5 206.2v2.2M349.5 212.0v2.2M349.5 217.9v2.2M349.5 223.7v2.2" stroke="#b2b2b2" stroke-width="1.2" fill="none"/>
<path d="M148.9 172.6V230.8M154.5 172.6V230.8M160.0 172.6V230.8M165.6 172.6V230.8M171.2 172.6V230.8M176.8 172.6V230.8M182.3 172.6V230.8M187.9 172.6V230.8M193.5 172.6V230.8M199.1 172.6V230.8M204.6 172.6V230.8M210.2 172.6V230.8M215.8 172.6V230.8M221.3 172.6V230.8M226.9 172.6V230.8M232.5 172.6V230.8M238.1 172.6V230.8M243.6 172.6V230.8M249.2 172.6V230.8M254.8 172.6V230.8M260.4 172.6V230.8M265.9 172.6V230.8M271.5 172.6V230.8M277.1 172.6V230.8M282.7 172.6V230.8M288.2 172.6V230.8M293.8 172.6V230.8M299.4 172.6V230.8M304.9 172.6V230.8M310.5 172.6V230.8M316.1 172.6V230.8M321.7 172.6V230.8M327.2 172.6V230.8M332.8 172.6V230.8M338.4 172.6V230.8M344.0 172.6V230.8M349.5 172.6V230.8" stroke="#000" stroke-width="1" fill="none" opacity="0.015"/>
<path d="M189.0 172.6V230.8M230.7 172.6V230.8M272.5 172.6V230.8M314.2 172.6V230.8M147.2 201.5H356.0" stroke="#d8d8d8" stroke-width="2" fill="none"/>
<path d="M189.0 172.6v3.2M189.0 230.8v-3.2M230.7 172.6v3.2M230.7 230.8v-3.2M272.5 172.6v3.2M272.5 230.8v-3.2M314.2 172.6v3.2M314.2 230.8v-3.2M147.2 201.5h3.2M356.0 201.5h-3.2" stroke="#262626" stroke-width="1.8" fill="none"/>
<rect x="147.2" y="172.6" width="208.8" height="58.2" fill="none" stroke="#262626" stroke-width="2.2"/>
<g fill="none" stroke="#0072BD" stroke-width="2.2">
<circle cx="157.0" cy="231.2" r="4.1"/><circle cx="158.7" cy="231.7" r="4.1"/><circle cx="160.5" cy="229.5" r="4.1"/><circle cx="162.2" cy="229.7" r="4.1"/><circle cx="164.0" cy="229.2" r="4.1"/><circle cx="165.7" cy="228.3" r="4.1"/><circle cx="167.5" cy="226.8" r="4.1"/><circle cx="169.2" cy="226.8" r="4.1"/><circle cx="171.0" cy="225.1" r="4.1"/><circle cx="172.7" cy="224.3" r="4.1"/><circle cx="174.5" cy="224.0" r="4.1"/><circle cx="176.2" cy="224.4" r="4.1"/><circle cx="178.0" cy="224.2" r="4.1"/><circle cx="179.7" cy="223.6" r="4.1"/><circle cx="181.5" cy="222.3" r="4.1"/><circle cx="183.2" cy="220.6" r="4.1"/><circle cx="185.0" cy="217.2" r="4.1"/><circle cx="186.7" cy="216.1" r="4.1"/><circle cx="188.5" cy="215.3" r="4.1"/><circle cx="190.2" cy="213.4" r="4.1"/><circle cx="192.0" cy="211.9" r="4.1"/><circle cx="193.7" cy="210.9" r="4.1"/><circle cx="195.5" cy="210.5" r="4.1"/><circle cx="197.2" cy="211.2" r="4.1"/><circle cx="199.0" cy="211.8" r="4.1"/><circle cx="200.7" cy="211.6" r="4.1"/><circle cx="202.5" cy="210.6" r="4.1"/><circle cx="204.2" cy="210.4" r="4.1"/><circle cx="206.0" cy="209.1" r="4.1"/><circle cx="207.7" cy="208.5" r="4.1"/><circle cx="209.5" cy="207.4" r="4.1"/><circle cx="211.2" cy="206.9" r="4.1"/><circle cx="213.0" cy="206.4" r="4.1"/><circle cx="214.7" cy="205.3" r="4.1"/><circle cx="216.5" cy="205.0" r="4.1"/><circle cx="218.2" cy="204.7" r="4.1"/><circle cx="220.0" cy="203.8" r="4.1"/><circle cx="221.7" cy="203.1" r="4.1"/><circle cx="223.5" cy="203.0" r="4.1"/><circle cx="225.2" cy="202.4" r="4.1"/><circle cx="227.0" cy="203.2" r="4.1"/><circle cx="228.7" cy="204.1" r="4.1"/><circle cx="230.5" cy="204.5" r="4.1"/><circle cx="232.2" cy="203.4" r="4.1"/><circle cx="234.0" cy="201.9" r="4.1"/><circle cx="235.7" cy="200.4" r="4.1"/><circle cx="237.5" cy="198.2" r="4.1"/><circle cx="239.2" cy="195.5" r="4.1"/><circle cx="241.0" cy="194.5" r="4.1"/><circle cx="242.7" cy="192.3" r="4.1"/><circle cx="244.5" cy="191.1" r="4.1"/><circle cx="246.2" cy="189.5" r="4.1"/><circle cx="248.0" cy="189.8" r="4.1"/><circle cx="249.7" cy="188.6" r="4.1"/><circle cx="251.5" cy="187.2" r="4.1"/><circle cx="253.2" cy="185.3" r="4.1"/><circle cx="255.0" cy="185.3" r="4.1"/><circle cx="256.7" cy="186.5" r="4.1"/><circle cx="258.5" cy="188.7" r="4.1"/><circle cx="260.2" cy="190.6" r="4.1"/><circle cx="262.0" cy="192.3" r="4.1"/><circle cx="263.7" cy="194.3" r="4.1"/><circle cx="265.5" cy="195.6" r="4.1"/><circle cx="267.2" cy="197.1" r="4.1"/><circle cx="269.0" cy="199.2" r="4.1"/><circle cx="270.7" cy="201.2" r="4.1"/><circle cx="272.5" cy="202.8" r="4.1"/><circle cx="274.2" cy="203.8" r="4.1"/><circle cx="276.0" cy="203.6" r="4.1"/><circle cx="277.7" cy="204.1" r="4.1"/><circle cx="279.5" cy="204.2" r="4.1"/><circle cx="281.2" cy="202.1" r="4.1"/><circle cx="283.0" cy="200.2" r="4.1"/><circle cx="284.7" cy="198.6" r="4.1"/><circle cx="286.5" cy="196.2" r="4.1"/><circle cx="288.2" cy="194.6" r="4.1"/><circle cx="290.0" cy="192.6" r="4.1"/><circle cx="291.7" cy="191.4" r="4.1"/><circle cx="293.5" cy="189.0" r="4.1"/><circle cx="295.2" cy="186.2" r="4.1"/><circle cx="297.0" cy="184.4" r="4.1"/><circle cx="298.7" cy="182.8" r="4.1"/><circle cx="300.5" cy="180.5" r="4.1"/><circle cx="302.2" cy="179.1" r="4.1"/><circle cx="304.0" cy="177.0" r="4.1"/><circle cx="305.7" cy="178.1" r="4.1"/><circle cx="307.5" cy="178.2" r="4.1"/><circle cx="309.2" cy="180.3" r="4.1"/><circle cx="311.0" cy="182.8" r="4.1"/><circle cx="312.7" cy="185.4" r="4.1"/><circle cx="314.5" cy="187.4" r="4.1"/><circle cx="316.2" cy="188.3" r="4.1"/><circle cx="318.0" cy="189.6" r="4.1"/><circle cx="319.7" cy="189.7" r="4.1"/><circle cx="321.5" cy="190.2" r="4.1"/><circle cx="323.2" cy="191.2" r="4.1"/><circle cx="325.0" cy="191.0" r="4.1"/>
</g>
<text x="138.7" y="179.6" font-size="18.6" text-anchor="end" textLength="32.4" lengthAdjust="spacingAndGlyphs">270</text>
<text x="138.7" y="208.5" font-size="18.6" text-anchor="end" textLength="32.4" lengthAdjust="spacingAndGlyphs">260</text>
<text x="138.7" y="237.8" font-size="18.6" text-anchor="end" textLength="32.4" lengthAdjust="spacingAndGlyphs">250</text>
</g>
<g>
<path d="M492.3 177.3v2.2M492.3 183.1v2.2M492.3 188.9v2.2M492.3 194.7v2.2M492.3 206.3v2.2M492.3 212.1v2.2M492.3 217.9v2.2M492.3 223.7v2.2M497.9 177.3v2.2M497.9 183.1v2.2M497.9 188.9v2.2M497.9 194.7v2.2M497.9 206.3v2.2M497.9 212.1v2.2M497.9 217.9v2.2M497.9 223.7v2.2M503.4 177.3v2.2M503.4 183.1v2.2M503.4 188.9v2.2M503.4 194.7v2.2M503.4 206.3v2.2M503.4 212.1v2.2M503.4 217.9v2.2M503.4 223.7v2.2M509.0 177.3v2.2M509.0 183.1v2.2M509.0 188.9v2.2M509.0 194.7v2.2M509.0 206.3v2.2M509.0 212.1v2.2M509.0 217.9v2.2M509.0 223.7v2.2M514.6 177.3v2.2M514.6 183.1v2.2M514.6 188.9v2.2M514.6 194.7v2.2M514.6 206.3v2.2M514.6 212.1v2.2M514.6 217.9v2.2M514.6 223.7v2.2M520.2 177.3v2.2M520.2 183.1v2.2M520.2 188.9v2.2M520.2 194.7v2.2M520.2 206.3v2.2M520.2 212.1v2.2M520.2 217.9v2.2M520.2 223.7v2.2M525.7 177.3v2.2M525.7 183.1v2.2M525.7 188.9v2.2M525.7 194.7v2.2M525.7 206.3v2.2M525.7 212.1v2.2M525.7 217.9v2.2M525.7 223.7v2.2M531.3 177.3v2.2M531.3 183.1v2.2M531.3 188.9v2.2M531.3 194.7v2.2M531.3 206.3v2.2M531.3 212.1v2.2M531.3 217.9v2.2M531.3 223.7v2.2M536.9 177.3v2.2M536.9 183.1v2.2M536.9 188.9v2.2M536.9 194.7v2.2M536.9 206.3v2.2M536.9 212.1v2.2M536.9 217.9v2.2M536.9 223.7v2.2M542.5 177.3v2.2M542.5 183.1v2.2M542.5 188.9v2.2M542.5 194.7v2.2M542.5 206.3v2.2M542.5 212.1v2.2M542.5 217.9v2.2M542.5 223.7v2.2M548.0 177.3v2.2M548.0 183.1v2.2M548.0 188.9v2.2M548.0 194.7v2.2M548.0 206.3v2.2M548.0 212.1v2.2M548.0 217.9v2.2M548.0 223.7v2.2M553.6 177.3v2.2M553.6 183.1v2.2M553.6 188.9v2.2M553.6 194.7v2.2M553.6 206.3v2.2M553.6 212.1v2.2M553.6 217.9v2.2M553.6 223.7v2.2M559.2 177.3v2.2M559.2 183.1v2.2M559.2 188.9v2.2M559.2 194.7v2.2M559.2 206.3v2.2M559.2 212.1v2.2M559.2 217.9v2.2M559.2 223.7v2.2M564.7 177.3v2.2M564.7 183.1v2.2M564.7 188.9v2.2M564.7 194.7v2.2M564.7 206.3v2.2M564.7 212.1v2.2M564.7 217.9v2.2M564.7 223.7v2.2M570.3 177.3v2.2M570.3 183.1v2.2M570.3 188.9v2.2M570.3 194.7v2.2M570.3 206.3v2.2M570.3 212.1v2.2M570.3 217.9v2.2M570.3 223.7v2.2M575.9 177.3v2.2M575.9 183.1v2.2M575.9 188.9v2.2M575.9 194.7v2.2M575.9 206.3v2.2M575.9 212.1v2.2M575.9 217.9v2.2M575.9 223.7v2.2M581.5 177.3v2.2M581.5 183.1v2.2M581.5 188.9v2.2M581.5 194.7v2.2M581.5 206.3v2.2M581.5 212.1v2.2M581.5 217.9v2.2M581.5 223.7v2.2M587.0 177.3v2.2M587.0 183.1v2.2M587.0 188.9v2.2M587.0 194.7v2.2M587.0 206.3v2.2M587.0 212.1v2.2M587.0 217.9v2.2M587.0 223.7v2.2M592.6 177.3v2.2M592.6 183.1v2.2M592.6 188.9v2.2M592.6 194.7v2.2M592.6 206.3v2.2M592.6 212.1v2.2M592.6 217.9v2.2M592.6 223.7v2.2M598.2 177.3v2.2M598.2 183.1v2.2M598.2 188.9v2.2M598.2 194.7v2.2M598.2 206.3v2.2M598.2 212.1v2.2M598.2 217.9v2.2M598.2 223.7v2.2M603.8 177.3v2.2M603.8 183.1v2.2M603.8 188.9v2.2M603.8 194.7v2.2M603.8 206.3v2.2M603.8 212.1v2.2M603.8 217.9v2.2M603.8 223.7v2.2M609.3 177.3v2.2M609.3 183.1v2.2M609.3 188.9v2.2M609.3 194.7v2.2M609.3 206.3v2.2M609.3 212.1v2.2M609.3 217.9v2.2M609.3 223.7v2.2M614.9 177.3v2.2M614.9 183.1v2.2M614.9 188.9v2.2M614.9 194.7v2.2M614.9 206.3v2.2M614.9 212.1v2.2M614.9 217.9v2.2M614.9 223.7v2.2M620.5 177.3v2.2M620.5 183.1v2.2M620.5 188.9v2.2M620.5 194.7v2.2M620.5 206.3v2.2M620.5 212.1v2.2M620.5 217.9v2.2M620.5 223.7v2.2M626.1 177.3v2.2M626.1 183.1v2.2M626.1 188.9v2.2M626.1 194.7v2.2M626.1 206.3v2.2M626.1 212.1v2.2M626.1 217.9v2.2M626.1 223.7v2.2M631.6 177.3v2.2M631.6 183.1v2.2M631.6 188.9v2.2M631.6 194.7v2.2M631.6 206.3v2.2M631.6 212.1v2.2M631.6 217.9v2.2M631.6 223.7v2.2M637.2 177.3v2.2M637.2 183.1v2.2M637.2 188.9v2.2M637.2 194.7v2.2M637.2 206.3v2.2M637.2 212.1v2.2M637.2 217.9v2.2M637.2 223.7v2.2M642.8 177.3v2.2M642.8 183.1v2.2M642.8 188.9v2.2M642.8 194.7v2.2M642.8 206.3v2.2M642.8 212.1v2.2M642.8 217.9v2.2M642.8 223.7v2.2M648.3 177.3v2.2M648.3 183.1v2.2M648.3 188.9v2.2M648.3 194.7v2.2M648.3 206.3v2.2M648.3 212.1v2.2M648.3 217.9v2.2M648.3 223.7v2.2M653.9 177.3v2.2M653.9 183.1v2.2M653.9 188.9v2.2M653.9 194.7v2.2M653.9 206.3v2.2M653.9 212.1v2.2M653.9 217.9v2.2M653.9 223.7v2.2M659.5 177.3v2.2M659.5 183.1v2.2M659.5 188.9v2.2M659.5 194.7v2.2M659.5 206.3v2.2M659.5 212.1v2.2M659.5 217.9v2.2M659.5 223.7v2.2M665.1 177.3v2.2M665.1 183.1v2.2M665.1 188.9v2.2M665.1 194.7v2.2M665.1 206.3v2.2M665.1 212.1v2.2M665.1 217.9v2.2M665.1 223.7v2.2M670.6 177.3v2.2M670.6 183.1v2.2M670.6 188.9v2.2M670.6 194.7v2.2M670.6 206.3v2.2M670.6 212.1v2.2M670.6 217.9v2.2M670.6 223.7v2.2M676.2 177.3v2.2M676.2 183.1v2.2M676.2 188.9v2.2M676.2 194.7v2.2M676.2 206.3v2.2M676.2 212.1v2.2M676.2 217.9v2.2M676.2 223.7v2.2M681.8 177.3v2.2M681.8 183.1v2.2M681.8 188.9v2.2M681.8 194.7v2.2M681.8 206.3v2.2M681.8 212.1v2.2M681.8 217.9v2.2M681.8 223.7v2.2M687.4 177.3v2.2M687.4 183.1v2.2M687.4 188.9v2.2M687.4 194.7v2.2M687.4 206.3v2.2M687.4 212.1v2.2M687.4 217.9v2.2M687.4 223.7v2.2M692.9 177.3v2.2M692.9 183.1v2.2M692.9 188.9v2.2M692.9 194.7v2.2M692.9 206.3v2.2M692.9 212.1v2.2M692.9 217.9v2.2M692.9 223.7v2.2" stroke="#b2b2b2" stroke-width="1.2" fill="none"/>
<path d="M492.3 172.6V230.8M497.9 172.6V230.8M503.4 172.6V230.8M509.0 172.6V230.8M514.6 172.6V230.8M520.2 172.6V230.8M525.7 172.6V230.8M531.3 172.6V230.8M536.9 172.6V230.8M542.5 172.6V230.8M548.0 172.6V230.8M553.6 172.6V230.8M559.2 172.6V230.8M564.7 172.6V230.8M570.3 172.6V230.8M575.9 172.6V230.8M581.5 172.6V230.8M587.0 172.6V230.8M592.6 172.6V230.8M598.2 172.6V230.8M603.8 172.6V230.8M609.3 172.6V230.8M614.9 172.6V230.8M620.5 172.6V230.8M626.1 172.6V230.8M631.6 172.6V230.8M637.2 172.6V230.8M642.8 172.6V230.8M648.3 172.6V230.8M653.9 172.6V230.8M659.5 172.6V230.8M665.1 172.6V230.8M670.6 172.6V230.8M676.2 172.6V230.8M681.8 172.6V230.8M687.4 172.6V230.8M692.9 172.6V230.8" stroke="#000" stroke-width="1" fill="none" opacity="0.015"/>
<path d="M532.4 172.6V230.8M574.1 172.6V230.8M615.9 172.6V230.8M657.6 172.6V230.8M490.6 201.6H699.0" stroke="#d8d8d8" stroke-width="2" fill="none"/>
<path d="M532.4 172.6v3.2M532.4 230.8v-3.2M574.1 172.6v3.2M574.1 230.8v-3.2M615.9 172.6v3.2M615.9 230.8v-3.2M657.6 172.6v3.2M657.6 230.8v-3.2M490.6 201.6h3.2M699.0 201.6h-3.2" stroke="#262626" stroke-width="1.8" fill="none"/>
<rect x="490.6" y="172.6" width="208.4" height="58.2" fill="none" stroke="#262626" stroke-width="2.2"/>
<g fill="none" stroke="#0072BD" stroke-width="2.2">
<circle cx="500.6" cy="201.9" r="4.1"/><circle cx="502.3" cy="201.9" r="4.1"/><circle cx="504.1" cy="201.9" r="4.1"/><circle cx="505.8" cy="201.9" r="4.1"/><circle cx="507.6" cy="201.9" r="4.1"/><circle cx="509.3" cy="201.9" r="4.1"/><circle cx="511.1" cy="201.9" r="4.1"/><circle cx="512.8" cy="201.9" r="4.1"/><circle cx="514.6" cy="201.9" r="4.1"/><circle cx="516.3" cy="201.9" r="4.1"/><circle cx="518.0" cy="201.9" r="4.1"/><circle cx="519.8" cy="201.9" r="4.1"/><circle cx="521.5" cy="201.9" r="4.1"/><circle cx="523.3" cy="201.9" r="4.1"/><circle cx="525.0" cy="201.9" r="4.1"/><circle cx="526.8" cy="201.9" r="4.1"/><circle cx="528.5" cy="201.9" r="4.1"/><circle cx="530.2" cy="201.9" r="4.1"/><circle cx="532.0" cy="201.9" r="4.1"/><circle cx="533.7" cy="201.9" r="4.1"/><circle cx="535.5" cy="201.9" r="4.1"/><circle cx="537.2" cy="201.9" r="4.1"/><circle cx="539.0" cy="201.9" r="4.1"/><circle cx="540.7" cy="201.9" r="4.1"/><circle cx="542.5" cy="201.9" r="4.1"/><circle cx="544.2" cy="201.9" r="4.1"/><circle cx="545.9" cy="201.9" r="4.1"/><circle cx="547.7" cy="201.9" r="4.1"/><circle cx="549.4" cy="201.9" r="4.1"/><circle cx="551.2" cy="201.9" r="4.1"/><circle cx="552.9" cy="201.9" r="4.1"/><circle cx="554.7" cy="201.9" r="4.1"/><circle cx="556.4" cy="201.9" r="4.1"/><circle cx="558.1" cy="201.9" r="4.1"/><circle cx="559.9" cy="201.9" r="4.1"/><circle cx="561.6" cy="201.9" r="4.1"/><circle cx="563.4" cy="201.9" r="4.1"/><circle cx="565.1" cy="201.9" r="4.1"/><circle cx="566.9" cy="201.9" r="4.1"/><circle cx="568.6" cy="201.9" r="4.1"/><circle cx="570.4" cy="201.9" r="4.1"/><circle cx="572.1" cy="201.9" r="4.1"/><circle cx="573.8" cy="201.9" r="4.1"/><circle cx="575.6" cy="201.9" r="4.1"/><circle cx="577.3" cy="201.9" r="4.1"/><circle cx="579.1" cy="201.9" r="4.1"/><circle cx="580.8" cy="201.9" r="4.1"/><circle cx="582.6" cy="201.9" r="4.1"/><circle cx="584.3" cy="201.9" r="4.1"/><circle cx="586.0" cy="201.9" r="4.1"/><circle cx="587.8" cy="201.9" r="4.1"/><circle cx="589.5" cy="201.9" r="4.1"/><circle cx="591.3" cy="201.9" r="4.1"/><circle cx="593.0" cy="201.9" r="4.1"/><circle cx="594.8" cy="201.9" r="4.1"/><circle cx="596.5" cy="201.9" r="4.1"/><circle cx="598.2" cy="201.9" r="4.1"/><circle cx="600.0" cy="201.9" r="4.1"/><circle cx="601.7" cy="201.9" r="4.1"/><circle cx="603.5" cy="201.9" r="4.1"/><circle cx="605.2" cy="201.9" r="4.1"/><circle cx="607.0" cy="201.9" r="4.1"/><circle cx="608.7" cy="201.9" r="4.1"/><circle cx="610.5" cy="201.9" r="4.1"/><circle cx="612.2" cy="201.9" r="4.1"/><circle cx="613.9" cy="201.9" r="4.1"/><circle cx="615.7" cy="201.9" r="4.1"/><circle cx="617.4" cy="201.9" r="4.1"/><circle cx="619.2" cy="201.9" r="4.1"/><circle cx="620.9" cy="201.9" r="4.1"/><circle cx="622.7" cy="201.9" r="4.1"/><circle cx="624.4" cy="201.9" r="4.1"/><circle cx="626.1" cy="201.9" r="4.1"/><circle cx="627.9" cy="201.9" r="4.1"/><circle cx="629.6" cy="201.9" r="4.1"/><circle cx="631.4" cy="201.9" r="4.1"/><circle cx="633.1" cy="201.9" r="4.1"/><circle cx="634.9" cy="201.9" r="4.1"/><circle cx="636.6" cy="201.9" r="4.1"/><circle cx="638.4" cy="201.9" r="4.1"/><circle cx="640.1" cy="201.9" r="4.1"/><circle cx="641.8" cy="201.9" r="4.1"/><circle cx="643.6" cy="201.9" r="4.1"/><circle cx="645.3" cy="201.9" r="4.1"/><circle cx="647.1" cy="201.9" r="4.1"/><circle cx="648.8" cy="201.9" r="4.1"/><circle cx="650.6" cy="201.9" r="4.1"/><circle cx="652.3" cy="201.9" r="4.1"/><circle cx="654.0" cy="201.9" r="4.1"/><circle cx="655.8" cy="201.9" r="4.1"/><circle cx="657.5" cy="201.9" r="4.1"/><circle cx="659.3" cy="201.9" r="4.1"/><circle cx="661.0" cy="201.9" r="4.1"/><circle cx="662.8" cy="201.9" r="4.1"/><circle cx="664.5" cy="201.9" r="4.1"/><circle cx="666.3" cy="201.9" r="4.1"/><circle cx="668.0" cy="201.9" r="4.1"/>
</g>
<text x="482.1" y="179.6" font-size="18.6" text-anchor="end" textLength="10.8" lengthAdjust="spacingAndGlyphs">1</text>
<text x="482.1" y="208.6" font-size="18.6" text-anchor="end" textLength="10.8" lengthAdjust="spacingAndGlyphs">0</text>
<text x="482.1" y="237.8" font-size="18.6" text-anchor="end" textLength="16.8" lengthAdjust="spacingAndGlyphs">-1</text>
</g>
<g>
<path d="M148.9 303.5v2.2M148.9 313.5v2.2M148.9 318.4v2.2M148.9 323.4v2.2M148.9 328.4v2.2M148.9 338.3v2.2M148.9 343.3v2.2M148.9 348.3v2.2M148.9 353.2v2.2M154.5 303.5v2.2M154.5 313.5v2.2M154.5 318.4v2.2M154.5 323.4v2.2M154.5 328.4v2.2M154.5 338.3v2.2M154.5 343.3v2.2M154.5 348.3v2.2M154.5 353.2v2.2M160.0 303.5v2.2M160.0 313.5v2.2M160.0 318.4v2.2M160.0 323.4v2.2M160.0 328.4v2.2M160.0 338.3v2.2M160.0 343.3v2.2M160.0 348.3v2.2M160.0 353.2v2.2M165.6 303.5v2.2M165.6 313.5v2.2M165.6 318.4v2.2M165.6 323.4v2.2M165.6 328.4v2.2M165.6 338.3v2.2M165.6 343.3v2.2M165.6 348.3v2.2M165.6 353.2v2.2M171.2 303.5v2.2M171.2 313.5v2.2M171.2 318.4v2.2M171.2 323.4v2.2M171.2 328.4v2.2M171.2 338.3v2.2M171.2 343.3v2.2M171.2 348.3v2.2M171.2 353.2v2.2M176.8 303.5v2.2M176.8 313.5v2.2M176.8 318.4v2.2M176.8 323.4v2.2M176.8 328.4v2.2M176.8 338.3v2.2M176.8 343.3v2.2M176.8 348.3v2.2M176.8 353.2v2.2M182.3 303.5v2.2M182.3 313.5v2.2M182.3 318.4v2.2M182.3 323.4v2.2M182.3 328.4v2.2M182.3 338.3v2.2M182.3 343.3v2.2M182.3 348.3v2.2M182.3 353.2v2.2M187.9 303.5v2.2M187.9 313.5v2.2M187.9 318.4v2.2M187.9 323.4v2.2M187.9 328.4v2.2M187.9 338.3v2.2M187.9 343.3v2.2M187.9 348.3v2.2M187.9 353.2v2.2M193.5 303.5v2.2M193.5 313.5v2.2M193.5 318.4v2.2M193.5 323.4v2.2M193.5 328.4v2.2M193.5 338.3v2.2M193.5 343.3v2.2M193.5 348.3v2.2M193.5 353.2v2.2M199.1 303.5v2.2M199.1 313.5v2.2M199.1 318.4v2.2M199.1 323.4v2.2M199.1 328.4v2.2M199.1 338.3v2.2M199.1 343.3v2.2M199.1 348.3v2.2M199.1 353.2v2.2M204.6 303.5v2.2M204.6 313.5v2.2M204.6 318.4v2.2M204.6 323.4v2.2M204.6 328.4v2.2M204.6 338.3v2.2M204.6 343.3v2.2M204.6 348.3v2.2M204.6 353.2v2.2M210.2 303.5v2.2M210.2 313.5v2.2M210.2 318.4v2.2M210.2 323.4v2.2M210.2 328.4v2.2M210.2 338.3v2.2M210.2 343.3v2.2M210.2 348.3v2.2M210.2 353.2v2.2M215.8 303.5v2.2M215.8 313.5v2.2M215.8 318.4v2.2M215.8 323.4v2.2M215.8 328.4v2.2M215.8 338.3v2.2M215.8 343.3v2.2M215.8 348.3v2.2M215.8 353.2v2.2M221.3 303.5v2.2M221.3 313.5v2.2M221.3 318.4v2.2M221.3 323.4v2.2M221.3 328.4v2.2M221.3 338.3v2.2M221.3 343.3v2.2M221.3 348.3v2.2M221.3 353.2v2.2M226.9 303.5v2.2M226.9 313.5v2.2M226.9 318.4v2.2M226.9 323.4v2.2M226.9 328.4v2.2M226.9 338.3v2.2M226.9 343.3v2.2M226.9 348.3v2.2M226.9 353.2v2.2M232.5 303.5v2.2M232.5 313.5v2.2M232.5 318.4v2.2M232.5 323.4v2.2M232.5 328.4v2.2M232.5 338.3v2.2M232.5 343.3v2.2M232.5 348.3v2.2M232.5 353.2v2.2M238.1 303.5v2.2M238.1 313.5v2.2M238.1 318.4v2.2M238.1 323.4v2.2M238.1 328.4v2.2M238.1 338.3v2.2M238.1 343.3v2.2M238.1 348.3v2.2M238.1 353.2v2.2M243.6 303.5v2.2M243.6 313.5v2.2M243.6 318.4v2.2M243.6 323.4v2.2M243.6 328.4v2.2M243.6 338.3v2.2M243.6 343.3v2.2M243.6 348.3v2.2M243.6 353.2v2.2M249.2 303.5v2.2M249.2 313.5v2.2M249.2 318.4v2.2M249.2 323.4v2.2M249.2 328.4v2.2M249.2 338.3v2.2M249.2 343.3v2.2M249.2 348.3v2.2M249.2 353.2v2.2M254.8 303.5v2.2M254.8 313.5v2.2M254.8 318.4v2.2M254.8 323.4v2.2M254.8 328.4v2.2M254.8 338.3v2.2M254.8 343.3v2.2M254.8 348.3v2.2M254.8 353.2v2.2M260.4 303.5v2.2M260.4 313.5v2.2M260.4 318.4v2.2M260.4 323.4v2.2M260.4 328.4v2.2M260.4 338.3v2.2M260.4 343.3v2.2M260.4 348.3v2.2M260.4 353.2v2.2M265.9 303.5v2.2M265.9 313.5v2.2M265.9 318.4v2.2M265.9 323.4v2.2M265.9 328.4v2.2M265.9 338.3v2.2M265.9 343.3v2.2M265.9 348.3v2.2M265.9 353.2v2.2M271.5 303.5v2.2M271.5 313.5v2.2M271.5 318.4v2.2M271.5 323.4v2.2M271.5 328.4v2.2M271.5 338.3v2.2M271.5 343.3v2.2M271.5 348.3v2.2M271.5 353.2v2.2M277.1 303.5v2.2M277.1 313.5v2.2M277.1 318.4v2.2M277.1 323.4v2.2M277.1 328.4v2.2M277.1 338.3v2.2M277.1 343.3v2.2M277.1 348.3v2.2M277.1 353.2v2.2M282.7 303.5v2.2M282.7 313.5v2.2M282.7 318.4v2.2M282.7 323.4v2.2M282.7 328.4v2.2M282.7 338.3v2.2M282.7 343.3v2.2M282.7 348.3v2.2M282.7 353.2v2.2M288.2 303.5v2.2M288.2 313.5v2.2M288.2 318.4v2.2M288.2 323.4v2.2M288.2 328.4v2.2M288.2 338.3v2.2M288.2 343.3v2.2M288.2 348.3v2.2M288.2 353.2v2.2M293.8 303.5v2.2M293.8 313.5v2.2M293.8 318.4v2.2M293.8 323.4v2.2M293.8 328.4v2.2M293.8 338.3v2.2M293.8 343.3v2.2M293.8 348.3v2.2M293.8 353.2v2.2M299.4 303.5v2.2M299.4 313.5v2.2M299.4 318.4v2.2M299.4 323.4v2.2M299.4 328.4v2.2M299.4 338.3v2.2M299.4 343.3v2.2M299.4 348.3v2.2M299.4 353.2v2.2M304.9 303.5v2.2M304.9 313.5v2.2M304.9 318.4v2.2M304.9 323.4v2.2M304.9 328.4v2.2M304.9 338.3v2.2M304.9 343.3v2.2M304.9 348.3v2.2M304.9 353.2v2.2M310.5 303.5v2.2M310.5 313.5v2.2M310.5 318.4v2.2M310.5 323.4v2.2M310.5 328.4v2.2M310.5 338.3v2.2M310.5 343.3v2.2M310.5 348.3v2.2M310.5 353.2v2.2M316.1 303.5v2.2M316.1 313.5v2.2M316.1 318.4v2.2M316.1 323.4v2.2M316.1 328.4v2.2M316.1 338.3v2.2M316.1 343.3v2.2M316.1 348.3v2.2M316.1 353.2v2.2M321.7 303.5v2.2M321.7 313.5v2.2M321.7 318.4v2.2M321.7 323.4v2.2M321.7 328.4v2.2M321.7 338.3v2.2M321.7 343.3v2.2M321.7 348.3v2.2M321.7 353.2v2.2M327.2 303.5v2.2M327.2 313.5v2.2M327.2 318.4v2.2M327.2 323.4v2.2M327.2 328.4v2.2M327.2 338.3v2.2M327.2 343.3v2.2M327.2 348.3v2.2M327.2 353.2v2.2M332.8 303.5v2.2M332.8 313.5v2.2M332.8 318.4v2.2M332.8 323.4v2.2M332.8 328.4v2.2M332.8 338.3v2.2M332.8 343.3v2.2M332.8 348.3v2.2M332.8 353.2v2.2M338.4 303.5v2.2M338.4 313.5v2.2M338.4 318.4v2.2M338.4 323.4v2.2M338.4 328.4v2.2M338.4 338.3v2.2M338.4 343.3v2.2M338.4 348.3v2.2M338.4 353.2v2.2M344.0 303.5v2.2M344.0 313.5v2.2M344.0 318.4v2.2M344.0 323.4v2.2M344.0 328.4v2.2M344.0 338.3v2.2M344.0 343.3v2.2M344.0 348.3v2.2M344.0 353.2v2.2M349.5 303.5v2.2M349.5 313.5v2.2M349.5 318.4v2.2M349.5 323.4v2.2M349.5 328.4v2.2M349.5 338.3v2.2M349.5 343.3v2.2M349.5 348.3v2.2M349.5 353.2v2.2" stroke="#b2b2b2" stroke-width="1.2" fill="none"/>
<path d="M148.9 299.4V359.0M154.5 299.4V359.0M160.0 299.4V359.0M165.6 299.4V359.0M171.2 299.4V359.0M176.8 299.4V359.0M182.3 299.4V359.0M187.9 299.4V359.0M193.5 299.4V359.0M199.1 299.4V359.0M204.6 299.4V359.0M210.2 299.4V359.0M215.8 299.4V359.0M221.3 299.4V359.0M226.9 299.4V359.0M232.5 299.4V359.0M238.1 299.4V359.0M243.6 299.4V359.0M249.2 299.4V359.0M254.8 299.4V359.0M260.4 299.4V359.0M265.9 299.4V359.0M271.5 299.4V359.0M277.1 299.4V359.0M282.7 299.4V359.0M288.2 299.4V359.0M293.8 299.4V359.0M299.4 299.4V359.0M304.9 299.4V359.0M310.5 299.4V359.0M316.1 299.4V359.0M321.7 299.4V359.0M327.2 299.4V359.0M332.8 299.4V359.0M338.4 299.4V359.0M344.0 299.4V359.0M349.5 299.4V359.0" stroke="#000" stroke-width="1" fill="none" opacity="0.015"/>
<path d="M189.0 299.4V359.0M230.7 299.4V359.0M272.5 299.4V359.0M314.2 299.4V359.0M147.2 309.6H356.0M147.2 334.4H356.0" stroke="#d8d8d8" stroke-width="2" fill="none"/>
<path d="M189.0 299.4v3.2M189.0 359.0v-3.2M230.7 299.4v3.2M230.7 359.0v-3.2M272.5 299.4v3.2M272.5 359.0v-3.2M314.2 299.4v3.2M314.2 359.0v-3.2M147.2 309.6h3.2M356.0 309.6h-3.2M147.2 334.4h3.2M356.0 334.4h-3.2" stroke="#262626" stroke-width="1.8" fill="none"/>
<rect x="147.2" y="299.4" width="208.8" height="59.6" fill="none" stroke="#262626" stroke-width="2.2"/>
<g fill="none" stroke="#0072BD" stroke-width="2.2">
<circle cx="157.0" cy="358.7" r="4.1"/><circle cx="159.1" cy="355.9" r="4.1"/><circle cx="161.2" cy="352.4" r="4.1"/><circle cx="163.3" cy="351.6" r="4.1"/><circle cx="165.5" cy="353.8" r="4.1"/><circle cx="167.6" cy="352.4" r="4.1"/><circle cx="169.0" cy="354.5" r="4.1"/><circle cx="170.4" cy="358.0" r="4.1"/><circle cx="172.5" cy="358.7" r="4.1"/><circle cx="174.7" cy="356.6" r="4.1"/><circle cx="176.8" cy="354.5" r="4.1"/><circle cx="178.9" cy="358.0" r="4.1"/><circle cx="181.0" cy="357.3" r="4.1"/><circle cx="183.1" cy="355.2" r="4.1"/><circle cx="185.3" cy="351.6" r="4.1"/><circle cx="187.4" cy="349.5" r="4.1"/><circle cx="189.5" cy="347.4" r="4.1"/><circle cx="191.6" cy="348.8" r="4.1"/><circle cx="193.7" cy="346.7" r="4.1"/><circle cx="195.9" cy="351.6" r="4.1"/><circle cx="197.3" cy="330.4" r="4.1"/><circle cx="199.4" cy="325.5" r="4.1"/><circle cx="200.8" cy="348.8" r="4.1"/><circle cx="202.9" cy="342.5" r="4.1"/><circle cx="205.1" cy="344.6" r="4.1"/><circle cx="206.5" cy="341.0" r="4.1"/><circle cx="208.6" cy="337.5" r="4.1"/><circle cx="210.0" cy="335.4" r="4.1"/><circle cx="212.1" cy="336.8" r="4.1"/><circle cx="213.6" cy="347.4" r="4.1"/><circle cx="214.3" cy="353.1" r="4.1"/><circle cx="216.4" cy="354.5" r="4.1"/><circle cx="218.5" cy="352.4" r="4.1"/><circle cx="220.6" cy="351.6" r="4.1"/><circle cx="222.7" cy="355.9" r="4.1"/><circle cx="224.9" cy="350.2" r="4.1"/><circle cx="225.6" cy="343.9" r="4.1"/><circle cx="227.0" cy="336.1" r="4.1"/><circle cx="228.4" cy="328.3" r="4.1"/><circle cx="229.8" cy="334.7" r="4.1"/><circle cx="231.9" cy="336.8" r="4.1"/><circle cx="234.1" cy="333.3" r="4.1"/><circle cx="236.2" cy="329.7" r="4.1"/><circle cx="238.3" cy="325.5" r="4.1"/><circle cx="239.7" cy="321.9" r="4.1"/><circle cx="241.1" cy="318.4" r="4.1"/><circle cx="242.5" cy="314.9" r="4.1"/><circle cx="244.7" cy="310.6" r="4.1"/><circle cx="246.8" cy="307.8" r="4.1"/><circle cx="248.9" cy="305.0" r="4.1"/><circle cx="251.4" cy="305.0" r="4.1"/><circle cx="252.8" cy="302.1" r="4.1"/><circle cx="255.0" cy="299.3" r="4.1"/><circle cx="256.8" cy="317.7" r="4.1"/><circle cx="258.5" cy="355.2" r="4.1"/><circle cx="260.6" cy="357.3" r="4.1"/><circle cx="262.7" cy="354.5" r="4.1"/><circle cx="264.9" cy="355.9" r="4.1"/><circle cx="267.0" cy="357.3" r="4.1"/><circle cx="269.1" cy="358.0" r="4.1"/><circle cx="271.2" cy="358.7" r="4.1"/><circle cx="273.1" cy="358.7" r="4.1"/><circle cx="274.9" cy="358.7" r="4.1"/><circle cx="276.8" cy="358.7" r="4.1"/><circle cx="278.6" cy="358.7" r="4.1"/><circle cx="280.5" cy="358.7" r="4.1"/><circle cx="282.4" cy="358.7" r="4.1"/><circle cx="284.2" cy="358.7" r="4.1"/><circle cx="286.1" cy="358.7" r="4.1"/><circle cx="287.5" cy="357.3" r="4.1"/><circle cx="289.6" cy="350.9" r="4.1"/><circle cx="291.0" cy="341.0" r="4.1"/><circle cx="292.4" cy="339.6" r="4.1"/><circle cx="294.1" cy="336.8" r="4.1"/><circle cx="296.0" cy="333.3" r="4.1"/><circle cx="297.7" cy="330.4" r="4.1"/><circle cx="299.5" cy="327.6" r="4.1"/><circle cx="301.2" cy="325.5" r="4.1"/><circle cx="303.0" cy="323.4" r="4.1"/><circle cx="304.9" cy="321.9" r="4.1"/><circle cx="306.6" cy="339.2" r="4.1"/><circle cx="308.3" cy="355.2" r="4.1"/><circle cx="310.1" cy="357.3" r="4.1"/><circle cx="312.2" cy="358.7" r="4.1"/><circle cx="314.1" cy="358.7" r="4.1"/><circle cx="315.9" cy="358.7" r="4.1"/><circle cx="317.7" cy="358.7" r="4.1"/><circle cx="319.5" cy="358.7" r="4.1"/><circle cx="321.3" cy="358.7" r="4.1"/><circle cx="323.1" cy="358.7" r="4.1"/><circle cx="325.0" cy="358.7" r="4.1"/>
</g>
<text x="138.7" y="316.6" font-size="18.6" text-anchor="end" textLength="43.2" lengthAdjust="spacingAndGlyphs">1000</text>
<text x="138.7" y="341.4" font-size="18.6" text-anchor="end" textLength="32.4" lengthAdjust="spacingAndGlyphs">500</text>
<text x="138.7" y="366.0" font-size="18.6" text-anchor="end" textLength="10.8" lengthAdjust="spacingAndGlyphs">0</text>
</g>
<g>
<path d="M492.3 303.1v2.1M492.3 307.7v2.1M492.3 316.8v2.1M492.3 321.4v2.1M492.3 326.0v2.1M492.3 330.6v2.1M492.3 339.7v2.1M492.3 344.3v2.1M492.3 348.8v2.1M492.3 353.4v2.1M497.9 303.1v2.1M497.9 307.7v2.1M497.9 316.8v2.1M497.9 321.4v2.1M497.9 326.0v2.1M497.9 330.6v2.1M497.9 339.7v2.1M497.9 344.3v2.1M497.9 348.8v2.1M497.9 353.4v2.1M503.4 303.1v2.1M503.4 307.7v2.1M503.4 316.8v2.1M503.4 321.4v2.1M503.4 326.0v2.1M503.4 330.6v2.1M503.4 339.7v2.1M503.4 344.3v2.1M503.4 348.8v2.1M503.4 353.4v2.1M509.0 303.1v2.1M509.0 307.7v2.1M509.0 316.8v2.1M509.0 321.4v2.1M509.0 326.0v2.1M509.0 330.6v2.1M509.0 339.7v2.1M509.0 344.3v2.1M509.0 348.8v2.1M509.0 353.4v2.1M514.6 303.1v2.1M514.6 307.7v2.1M514.6 316.8v2.1M514.6 321.4v2.1M514.6 326.0v2.1M514.6 330.6v2.1M514.6 339.7v2.1M514.6 344.3v2.1M514.6 348.8v2.1M514.6 353.4v2.1M520.2 303.1v2.1M520.2 307.7v2.1M520.2 316.8v2.1M520.2 321.4v2.1M520.2 326.0v2.1M520.2 330.6v2.1M520.2 339.7v2.1M520.2 344.3v2.1M520.2 348.8v2.1M520.2 353.4v2.1M525.7 303.1v2.1M525.7 307.7v2.1M525.7 316.8v2.1M525.7 321.4v2.1M525.7 326.0v2.1M525.7 330.6v2.1M525.7 339.7v2.1M525.7 344.3v2.1M525.7 348.8v2.1M525.7 353.4v2.1M531.3 303.1v2.1M531.3 307.7v2.1M531.3 316.8v2.1M531.3 321.4v2.1M531.3 326.0v2.1M531.3 330.6v2.1M531.3 339.7v2.1M531.3 344.3v2.1M531.3 348.8v2.1M531.3 353.4v2.1M536.9 303.1v2.1M536.9 307.7v2.1M536.9 316.8v2.1M536.9 321.4v2.1M536.9 326.0v2.1M536.9 330.6v2.1M536.9 339.7v2.1M536.9 344.3v2.1M536.9 348.8v2.1M536.9 353.4v2.1M542.5 303.1v2.1M542.5 307.7v2.1M542.5 316.8v2.1M542.5 321.4v2.1M542.5 326.0v2.1M542.5 330.6v2.1M542.5 339.7v2.1M542.5 344.3v2.1M542.5 348.8v2.1M542.5 353.4v2.1M548.0 303.1v2.1M548.0 307.7v2.1M548.0 316.8v2.1M548.0 321.4v2.1M548.0 326.0v2.1M548.0 330.6v2.1M548.0 339.7v2.1M548.0 344.3v2.1M548.0 348.8v2.1M548.0 353.4v2.1M553.6 303.1v2.1M553.6 307.7v2.1M553.6 316.8v2.1M553.6 321.4v2.1M553.6 326.0v2.1M553.6 330.6v2.1M553.6 339.7v2.1M553.6 344.3v2.1M553.6 348.8v2.1M553.6 353.4v2.1M559.2 303.1v2.1M559.2 307.7v2.1M559.2 316.8v2.1M559.2 321.4v2.1M559.2 326.0v2.1M559.2 330.6v2.1M559.2 339.7v2.1M559.2 344.3v2.1M559.2 348.8v2.1M559.2 353.4v2.1M564.7 303.1v2.1M564.7 307.7v2.1M564.7 316.8v2.1M564.7 321.4v2.1M564.7 326.0v2.1M564.7 330.6v2.1M564.7 339.7v2.1M564.7 344.3v2.1M564.7 348.8v2.1M564.7 353.4v2.1M570.3 303.1v2.1M570.3 307.7v2.1M570.3 316.8v2.1M570.3 321.4v2.1M570.3 326.0v2.1M570.3 330.6v2.1M570.3 339.7v2.1M570.3 344.3v2.1M570.3 348.8v2.1M570.3 353.4v2.1M575.9 303.1v2.1M575.9 307.7v2.1M575.9 316.8v2.1M575.9 321.4v2.1M575.9 326.0v2.1M575.9 330.6v2.1M575.9 339.7v2.1M575.9 344.3v2.1M575.9 348.8v2.1M575.9 353.4v2.1M581.5 303.1v2.1M581.5 307.7v2.1M581.5 316.8v2.1M581.5 321.4v2.1M581.5 326.0v2.1M581.5 330.6v2.1M581.5 339.7v2.1M581.5 344.3v2.1M581.5 348.8v2.1M581.5 353.4v2.1M587.0 303.1v2.1M587.0 307.7v2.1M587.0 316.8v2.1M587.0 321.4v2.1M587.0 326.0v2.1M587.0 330.6v2.1M587.0 339.7v2.1M587.0 344.3v2.1M587.0 348.8v2.1M587.0 353.4v2.1M592.6 303.1v2.1M592.6 307.7v2.1M592.6 316.8v2.1M592.6 321.4v2.1M592.6 326.0v2.1M592.6 330.6v2.1M592.6 339.7v2.1M592.6 344.3v2.1M592.6 348.8v2.1M592.6 353.4v2.1M598.2 303.1v2.1M598.2 307.7v2.1M598.2 316.8v2.1M598.2 321.4v2.1M598.2 326.0v2.1M598.2 330.6v2.1M598.2 339.7v2.1M598.2 344.3v2.1M598.2 348.8v2.1M598.2 353.4v2.1M603.8 303.1v2.1M603.8 307.7v2.1M603.8 316.8v2.1M603.8 321.4v2.1M603.8 326.0v2.1M603.8 330.6v2.1M603.8 339.7v2.1M603.8 344.3v2.1M603.8 348.8v2.1M603.8 353.4v2.1M609.3 303.1v2.1M609.3 307.7v2.1M609.3 316.8v2.1M609.3 321.4v2.1M609.3 326.0v2.1M609.3 330.6v2.1M609.3 339.7v2.1M609.3 344.3v2.1M609.3 348.8v2.1M609.3 353.4v2.1M614.9 303.1v2.1M614.9 307.7v2.1M614.9 316.8v2.1M614.9 321.4v2.1M614.9 326.0v2.1M614.9 330.6v2.1M614.9 339.7v2.1M614.9 344.3v2.1M614.9 348.8v2.1M614.9 353.4v2.1M620.5 303.1v2.1M620.5 307.7v2.1M620.5 316.8v2.1M620.5 321.4v2.1M620.5 326.0v2.1M620.5 330.6v2.1M620.5 339.7v2.1M620.5 344.3v2.1M620.5 348.8v2.1M620.5 353.4v2.1M626.1 303.1v2.1M626.1 307.7v2.1M626.1 316.8v2.1M626.1 321.4v2.1M626.1 326.0v2.1M626.1 330.6v2.1M626.1 339.7v2.1M626.1 344.3v2.1M626.1 348.8v2.1M626.1 353.4v2.1M631.6 303.1v2.1M631.6 307.7v2.1M631.6 316.8v2.1M631.6 321.4v2.1M631.6 326.0v2.1M631.6 330.6v2.1M631.6 339.7v2.1M631.6 344.3v2.1M631.6 348.8v2.1M631.6 353.4v2.1M637.2 303.1v2.1M637.2 307.7v2.1M637.2 316.8v2.1M637.2 321.4v2.1M637.2 326.0v2.1M637.2 330.6v2.1M637.2 339.7v2.1M637.2 344.3v2.1M637.2 348.8v2.1M637.2 353.4v2.1M642.8 303.1v2.1M642.8 307.7v2.1M642.8 316.8v2.1M642.8 321.4v2.1M642.8 326.0v2.1M642.8 330.6v2.1M642.8 339.7v2.1M642.8 344.3v2.1M642.8 348.8v2.1M642.8 353.4v2.1M648.3 303.1v2.1M648.3 307.7v2.1M648.3 316.8v2.1M648.3 321.4v2.1M648.3 326.0v2.1M648.3 330.6v2.1M648.3 339.7v2.1M648.3 344.3v2.1M648.3 348.8v2.1M648.3 353.4v2.1M653.9 303.1v2.1M653.9 307.7v2.1M653.9 316.8v2.1M653.9 321.4v2.1M653.9 326.0v2.1M653.9 330.6v2.1M653.9 339.7v2.1M653.9 344.3v2.1M653.9 348.8v2.1M653.9 353.4v2.1M659.5 303.1v2.1M659.5 307.7v2.1M659.5 316.8v2.1M659.5 321.4v2.1M659.5 326.0v2.1M659.5 330.6v2.1M659.5 339.7v2.1M659.5 344.3v2.1M659.5 348.8v2.1M659.5 353.4v2.1M665.1 303.1v2.1M665.1 307.7v2.1M665.1 316.8v2.1M665.1 321.4v2.1M665.1 326.0v2.1M665.1 330.6v2.1M665.1 339.7v2.1M665.1 344.3v2.1M665.1 348.8v2.1M665.1 353.4v2.1M670.6 303.1v2.1M670.6 307.7v2.1M670.6 316.8v2.1M670.6 321.4v2.1M670.6 326.0v2.1M670.6 330.6v2.1M670.6 339.7v2.1M670.6 344.3v2.1M670.6 348.8v2.1M670.6 353.4v2.1M676.2 303.1v2.1M676.2 307.7v2.1M676.2 316.8v2.1M676.2 321.4v2.1M676.2 326.0v2.1M676.2 330.6v2.1M676.2 339.7v2.1M676.2 344.3v2.1M676.2 348.8v2.1M676.2 353.4v2.1M681.8 303.1v2.1M681.8 307.7v2.1M681.8 316.8v2.1M681.8 321.4v2.1M681.8 326.0v2.1M681.8 330.6v2.1M681.8 339.7v2.1M681.8 344.3v2.1M681.8 348.8v2.1M681.8 353.4v2.1M687.4 303.1v2.1M687.4 307.7v2.1M687.4 316.8v2.1M687.4 321.4v2.1M687.4 326.0v2.1M687.4 330.6v2.1M687.4 339.7v2.1M687.4 344.3v2.1M687.4 348.8v2.1M687.4 353.4v2.1M692.9 303.1v2.1M692.9 307.7v2.1M692.9 316.8v2.1M692.9 321.4v2.1M692.9 326.0v2.1M692.9 330.6v2.1M692.9 339.7v2.1M692.9 344.3v2.1M692.9 348.8v2.1M692.9 353.4v2.1" stroke="#b2b2b2" stroke-width="1.2" fill="none"/>
<path d="M492.3 299.4V359.0M497.9 299.4V359.0M503.4 299.4V359.0M509.0 299.4V359.0M514.6 299.4V359.0M520.2 299.4V359.0M525.7 299.4V359.0M531.3 299.4V359.0M536.9 299.4V359.0M542.5 299.4V359.0M548.0 299.4V359.0M553.6 299.4V359.0M559.2 299.4V359.0M564.7 299.4V359.0M570.3 299.4V359.0M575.9 299.4V359.0M581.5 299.4V359.0M587.0 299.4V359.0M592.6 299.4V359.0M598.2 299.4V359.0M603.8 299.4V359.0M609.3 299.4V359.0M614.9 299.4V359.0M620.5 299.4V359.0M626.1 299.4V359.0M631.6 299.4V359.0M637.2 299.4V359.0M642.8 299.4V359.0M648.3 299.4V359.0M653.9 299.4V359.0M659.5 299.4V359.0M665.1 299.4V359.0M670.6 299.4V359.0M676.2 299.4V359.0M681.8 299.4V359.0M687.4 299.4V359.0M692.9 299.4V359.0" stroke="#000" stroke-width="1" fill="none" opacity="0.015"/>
<path d="M532.4 299.4V359.0M574.1 299.4V359.0M615.9 299.4V359.0M657.6 299.4V359.0M490.6 313.3H699.0M490.6 336.2H699.0" stroke="#d8d8d8" stroke-width="2" fill="none"/>
<path d="M532.4 299.4v3.2M532.4 359.0v-3.2M574.1 299.4v3.2M574.1 359.0v-3.2M615.9 299.4v3.2M615.9 359.0v-3.2M657.6 299.4v3.2M657.6 359.0v-3.2M490.6 313.3h3.2M699.0 313.3h-3.2M490.6 336.2h3.2M699.0 336.2h-3.2" stroke="#262626" stroke-width="1.8" fill="none"/>
<rect x="490.6" y="299.4" width="208.4" height="59.6" fill="none" stroke="#262626" stroke-width="2.2"/>
<g fill="none" stroke="#0072BD" stroke-width="2.2">
<circle cx="500.3" cy="359.1" r="4.1"/><circle cx="502.1" cy="359.1" r="4.1"/><circle cx="503.8" cy="359.1" r="4.1"/><circle cx="505.6" cy="359.1" r="4.1"/><circle cx="507.3" cy="359.1" r="4.1"/><circle cx="509.1" cy="359.1" r="4.1"/><circle cx="510.8" cy="359.1" r="4.1"/><circle cx="512.5" cy="359.1" r="4.1"/><circle cx="514.3" cy="359.1" r="4.1"/><circle cx="516.0" cy="359.1" r="4.1"/><circle cx="517.8" cy="359.1" r="4.1"/><circle cx="519.5" cy="359.1" r="4.1"/><circle cx="521.3" cy="359.1" r="4.1"/><circle cx="523.0" cy="359.1" r="4.1"/><circle cx="524.8" cy="359.1" r="4.1"/><circle cx="526.5" cy="359.1" r="4.1"/><circle cx="528.3" cy="359.1" r="4.1"/><circle cx="530.0" cy="359.1" r="4.1"/><circle cx="531.8" cy="359.1" r="4.1"/><circle cx="533.5" cy="359.1" r="4.1"/><circle cx="535.3" cy="359.1" r="4.1"/><circle cx="537.0" cy="359.1" r="4.1"/><circle cx="538.8" cy="359.1" r="4.1"/><circle cx="540.5" cy="359.1" r="4.1"/><circle cx="542.3" cy="359.1" r="4.1"/><circle cx="544.0" cy="359.1" r="4.1"/><circle cx="545.8" cy="359.1" r="4.1"/><circle cx="547.5" cy="359.1" r="4.1"/><circle cx="549.3" cy="359.1" r="4.1"/><circle cx="551.0" cy="359.1" r="4.1"/><circle cx="552.8" cy="359.1" r="4.1"/><circle cx="554.5" cy="359.1" r="4.1"/><circle cx="556.3" cy="359.1" r="4.1"/><circle cx="558.0" cy="359.1" r="4.1"/><circle cx="559.8" cy="359.1" r="4.1"/><circle cx="561.5" cy="359.1" r="4.1"/><circle cx="563.3" cy="359.1" r="4.1"/><circle cx="565.0" cy="359.1" r="4.1"/><circle cx="566.8" cy="359.1" r="4.1"/><circle cx="568.5" cy="359.1" r="4.1"/><circle cx="570.3" cy="359.1" r="4.1"/><circle cx="570.8" cy="354.6" r="4.1"/><circle cx="571.2" cy="341.1" r="4.1"/><circle cx="572.6" cy="337.5" r="4.1"/><circle cx="574.4" cy="333.9" r="4.1"/><circle cx="576.2" cy="330.3" r="4.1"/><circle cx="578.0" cy="326.7" r="4.1"/><circle cx="580.2" cy="323.1" r="4.1"/><circle cx="582.5" cy="319.5" r="4.1"/><circle cx="585.2" cy="316.8" r="4.1"/><circle cx="587.9" cy="315.0" r="4.1"/><circle cx="590.6" cy="313.2" r="4.1"/><circle cx="593.3" cy="312.3" r="4.1"/><circle cx="596.0" cy="311.4" r="4.1"/><circle cx="598.7" cy="309.6" r="4.1"/><circle cx="601.4" cy="307.8" r="4.1"/><circle cx="603.5" cy="306.9" r="4.1"/><circle cx="605.3" cy="306.9" r="4.1"/><circle cx="607.1" cy="306.9" r="4.1"/><circle cx="608.9" cy="306.9" r="4.1"/><circle cx="610.7" cy="306.9" r="4.1"/><circle cx="612.5" cy="306.9" r="4.1"/><circle cx="605.0" cy="314.1" r="4.1"/><circle cx="614.0" cy="311.4" r="4.1"/><circle cx="615.8" cy="315.0" r="4.1"/><circle cx="617.6" cy="317.7" r="4.1"/><circle cx="620.3" cy="313.2" r="4.1"/><circle cx="622.1" cy="317.7" r="4.1"/><circle cx="624.8" cy="317.7" r="4.1"/><circle cx="627.5" cy="313.2" r="4.1"/><circle cx="630.2" cy="315.0" r="4.1"/><circle cx="632.9" cy="317.7" r="4.1"/><circle cx="634.7" cy="313.2" r="4.1"/><circle cx="636.5" cy="309.6" r="4.1"/><circle cx="639.2" cy="305.1" r="4.1"/><circle cx="641.9" cy="303.3" r="4.1"/><circle cx="644.6" cy="301.5" r="4.1"/><circle cx="647.3" cy="299.2" r="4.1"/><circle cx="649.6" cy="298.4" r="4.1"/><circle cx="651.5" cy="298.4" r="4.1"/><circle cx="653.3" cy="298.4" r="4.1"/><circle cx="655.1" cy="298.4" r="4.1"/><circle cx="657.0" cy="298.4" r="4.1"/><circle cx="658.8" cy="298.4" r="4.1"/><circle cx="660.6" cy="298.4" r="4.1"/><circle cx="662.5" cy="298.4" r="4.1"/><circle cx="664.3" cy="298.4" r="4.1"/><circle cx="666.1" cy="298.4" r="4.1"/><circle cx="668.0" cy="298.4" r="4.1"/><circle cx="666.2" cy="304.2" r="4.1"/><circle cx="668.9" cy="299.7" r="4.1"/>
</g>
<text x="482.1" y="320.3" font-size="18.6" text-anchor="end" textLength="26.6" lengthAdjust="spacingAndGlyphs">1.5</text>
<text x="482.1" y="343.2" font-size="18.6" text-anchor="end" textLength="10.8" lengthAdjust="spacingAndGlyphs">1</text>
<text x="482.1" y="366.0" font-size="18.6" text-anchor="end" textLength="26.6" lengthAdjust="spacingAndGlyphs">0.5</text>
</g>
<g>
<path d="M148.9 429.9v2.2M148.9 439.2v2.2M148.9 457.8v2.2M148.9 467.1v2.2M148.9 476.4v2.2M154.5 429.9v2.2M154.5 439.2v2.2M154.5 457.8v2.2M154.5 467.1v2.2M154.5 476.4v2.2M160.0 429.9v2.2M160.0 439.2v2.2M160.0 457.8v2.2M160.0 467.1v2.2M160.0 476.4v2.2M165.6 429.9v2.2M165.6 439.2v2.2M165.6 457.8v2.2M165.6 467.1v2.2M165.6 476.4v2.2M171.2 429.9v2.2M171.2 439.2v2.2M171.2 457.8v2.2M171.2 467.1v2.2M171.2 476.4v2.2M176.8 429.9v2.2M176.8 439.2v2.2M176.8 457.8v2.2M176.8 467.1v2.2M176.8 476.4v2.2M182.3 429.9v2.2M182.3 439.2v2.2M182.3 457.8v2.2M182.3 467.1v2.2M182.3 476.4v2.2M187.9 429.9v2.2M187.9 439.2v2.2M187.9 457.8v2.2M187.9 467.1v2.2M187.9 476.4v2.2M193.5 429.9v2.2M193.5 439.2v2.2M193.5 457.8v2.2M193.5 467.1v2.2M193.5 476.4v2.2M199.1 429.9v2.2M199.1 439.2v2.2M199.1 457.8v2.2M199.1 467.1v2.2M199.1 476.4v2.2M204.6 429.9v2.2M204.6 439.2v2.2M204.6 457.8v2.2M204.6 467.1v2.2M204.6 476.4v2.2M210.2 429.9v2.2M210.2 439.2v2.2M210.2 457.8v2.2M210.2 467.1v2.2M210.2 476.4v2.2M215.8 429.9v2.2M215.8 439.2v2.2M215.8 457.8v2.2M215.8 467.1v2.2M215.8 476.4v2.2M221.3 429.9v2.2M221.3 439.2v2.2M221.3 457.8v2.2M221.3 467.1v2.2M221.3 476.4v2.2M226.9 429.9v2.2M226.9 439.2v2.2M226.9 457.8v2.2M226.9 467.1v2.2M226.9 476.4v2.2M232.5 429.9v2.2M232.5 439.2v2.2M232.5 457.8v2.2M232.5 467.1v2.2M232.5 476.4v2.2M238.1 429.9v2.2M238.1 439.2v2.2M238.1 457.8v2.2M238.1 467.1v2.2M238.1 476.4v2.2M243.6 429.9v2.2M243.6 439.2v2.2M243.6 457.8v2.2M243.6 467.1v2.2M243.6 476.4v2.2M249.2 429.9v2.2M249.2 439.2v2.2M249.2 457.8v2.2M249.2 467.1v2.2M249.2 476.4v2.2M254.8 429.9v2.2M254.8 439.2v2.2M254.8 457.8v2.2M254.8 467.1v2.2M254.8 476.4v2.2M260.4 429.9v2.2M260.4 439.2v2.2M260.4 457.8v2.2M260.4 467.1v2.2M260.4 476.4v2.2M265.9 429.9v2.2M265.9 439.2v2.2M265.9 457.8v2.2M265.9 467.1v2.2M265.9 476.4v2.2M271.5 429.9v2.2M271.5 439.2v2.2M271.5 457.8v2.2M271.5 467.1v2.2M271.5 476.4v2.2M277.1 429.9v2.2M277.1 439.2v2.2M277.1 457.8v2.2M277.1 467.1v2.2M277.1 476.4v2.2M282.7 429.9v2.2M282.7 439.2v2.2M282.7 457.8v2.2M282.7 467.1v2.2M282.7 476.4v2.2M288.2 429.9v2.2M288.2 439.2v2.2M288.2 457.8v2.2M288.2 467.1v2.2M288.2 476.4v2.2M293.8 429.9v2.2M293.8 439.2v2.2M293.8 457.8v2.2M293.8 467.1v2.2M293.8 476.4v2.2M299.4 429.9v2.2M299.4 439.2v2.2M299.4 457.8v2.2M299.4 467.1v2.2M299.4 476.4v2.2M304.9 429.9v2.2M304.9 439.2v2.2M304.9 457.8v2.2M304.9 467.1v2.2M304.9 476.4v2.2M310.5 429.9v2.2M310.5 439.2v2.2M310.5 457.8v2.2M310.5 467.1v2.2M310.5 476.4v2.2M316.1 429.9v2.2M316.1 439.2v2.2M316.1 457.8v2.2M316.1 467.1v2.2M316.1 476.4v2.2M321.7 429.9v2.2M321.7 439.2v2.2M321.7 457.8v2.2M321.7 467.1v2.2M321.7 476.4v2.2M327.2 429.9v2.2M327.2 439.2v2.2M327.2 457.8v2.2M327.2 467.1v2.2M327.2 476.4v2.2M332.8 429.9v2.2M332.8 439.2v2.2M332.8 457.8v2.2M332.8 467.1v2.2M332.8 476.4v2.2M338.4 429.9v2.2M338.4 439.2v2.2M338.4 457.8v2.2M338.4 467.1v2.2M338.4 476.4v2.2M344.0 429.9v2.2M344.0 439.2v2.2M344.0 457.8v2.2M344.0 467.1v2.2M344.0 476.4v2.2M349.5 429.9v2.2M349.5 439.2v2.2M349.5 457.8v2.2M349.5 467.1v2.2M349.5 476.4v2.2" stroke="#b2b2b2" stroke-width="1.2" fill="none"/>
<path d="M148.9 427.4V486.9M154.5 427.4V486.9M160.0 427.4V486.9M165.6 427.4V486.9M171.2 427.4V486.9M176.8 427.4V486.9M182.3 427.4V486.9M187.9 427.4V486.9M193.5 427.4V486.9M199.1 427.4V486.9M204.6 427.4V486.9M210.2 427.4V486.9M215.8 427.4V486.9M221.3 427.4V486.9M226.9 427.4V486.9M232.5 427.4V486.9M238.1 427.4V486.9M243.6 427.4V486.9M249.2 427.4V486.9M254.8 427.4V486.9M260.4 427.4V486.9M265.9 427.4V486.9M271.5 427.4V486.9M277.1 427.4V486.9M282.7 427.4V486.9M288.2 427.4V486.9M293.8 427.4V486.9M299.4 427.4V486.9M304.9 427.4V486.9M310.5 427.4V486.9M316.1 427.4V486.9M321.7 427.4V486.9M327.2 427.4V486.9M332.8 427.4V486.9M338.4 427.4V486.9M344.0 427.4V486.9M349.5 427.4V486.9" stroke="#000" stroke-width="1" fill="none" opacity="0.015"/>
<path d="M189.0 427.4V486.9M230.7 427.4V486.9M272.5 427.4V486.9M314.2 427.4V486.9M147.2 449.6H356.0" stroke="#d8d8d8" stroke-width="2" fill="none"/>
<path d="M189.0 427.4v3.2M189.0 486.9v-3.2M230.7 427.4v3.2M230.7 486.9v-3.2M272.5 427.4v3.2M272.5 486.9v-3.2M314.2 427.4v3.2M314.2 486.9v-3.2M147.2 449.6h3.2M356.0 449.6h-3.2" stroke="#262626" stroke-width="1.8" fill="none"/>
<rect x="147.2" y="427.4" width="208.8" height="59.5" fill="none" stroke="#262626" stroke-width="2.2"/>
<g fill="none" stroke="#0072BD" stroke-width="2.2">
<circle cx="157.7" cy="455.6" r="4.1"/><circle cx="159.8" cy="456.3" r="4.1"/><circle cx="161.9" cy="457.0" r="4.1"/><circle cx="164.0" cy="454.9" r="4.1"/><circle cx="166.2" cy="458.4" r="4.1"/><circle cx="167.6" cy="468.3" r="4.1"/><circle cx="170.4" cy="476.8" r="4.1"/><circle cx="172.8" cy="470.5" r="4.1"/><circle cx="174.9" cy="448.5" r="4.1"/><circle cx="176.8" cy="462.7" r="4.1"/><circle cx="178.2" cy="457.0" r="4.1"/><circle cx="180.3" cy="462.7" r="4.1"/><circle cx="182.4" cy="461.3" r="4.1"/><circle cx="184.6" cy="452.1" r="4.1"/><circle cx="185.5" cy="449.2" r="4.1"/><circle cx="187.4" cy="476.8" r="4.1"/><circle cx="188.8" cy="483.2" r="4.1"/><circle cx="190.5" cy="476.8" r="4.1"/><circle cx="192.3" cy="459.8" r="4.1"/><circle cx="193.7" cy="470.5" r="4.1"/><circle cx="195.9" cy="483.9" r="4.1"/><circle cx="198.0" cy="486.0" r="4.1"/><circle cx="200.1" cy="485.3" r="4.1"/><circle cx="202.7" cy="470.9" r="4.1"/><circle cx="204.4" cy="478.9" r="4.1"/><circle cx="206.5" cy="485.3" r="4.1"/><circle cx="208.6" cy="486.0" r="4.1"/><circle cx="210.7" cy="481.8" r="4.1"/><circle cx="212.8" cy="472.6" r="4.1"/><circle cx="215.0" cy="465.2" r="4.1"/><circle cx="217.1" cy="474.0" r="4.1"/><circle cx="219.2" cy="476.8" r="4.1"/><circle cx="221.3" cy="482.5" r="4.1"/><circle cx="223.5" cy="485.3" r="4.1"/><circle cx="225.6" cy="486.7" r="4.1"/><circle cx="227.7" cy="486.0" r="4.1"/><circle cx="229.8" cy="484.6" r="4.1"/><circle cx="231.9" cy="483.2" r="4.1"/><circle cx="234.1" cy="485.3" r="4.1"/><circle cx="236.2" cy="486.7" r="4.1"/><circle cx="237.9" cy="486.7" r="4.1"/><circle cx="239.6" cy="486.7" r="4.1"/><circle cx="241.3" cy="486.3" r="4.1"/><circle cx="243.0" cy="486.0" r="4.1"/><circle cx="244.7" cy="485.3" r="4.1"/><circle cx="246.4" cy="484.6" r="4.1"/><circle cx="248.1" cy="483.9" r="4.1"/><circle cx="249.8" cy="485.3" r="4.1"/><circle cx="250.0" cy="486.0" r="4.1"/><circle cx="252.1" cy="486.0" r="4.1"/><circle cx="254.2" cy="485.3" r="4.1"/><circle cx="256.4" cy="483.9" r="4.1"/><circle cx="258.5" cy="481.8" r="4.1"/><circle cx="259.2" cy="473.3" r="4.1"/><circle cx="261.0" cy="471.9" r="4.1"/><circle cx="262.7" cy="470.5" r="4.1"/><circle cx="264.4" cy="469.0" r="4.1"/><circle cx="265.8" cy="467.6" r="4.1"/><circle cx="267.0" cy="456.3" r="4.1"/><circle cx="268.7" cy="454.2" r="4.1"/><circle cx="270.5" cy="444.3" r="4.1"/><circle cx="271.2" cy="431.6" r="4.1"/><circle cx="273.3" cy="426.6" r="4.1"/><circle cx="275.5" cy="428.7" r="4.1"/><circle cx="277.6" cy="431.6" r="4.1"/><circle cx="279.7" cy="434.4" r="4.1"/><circle cx="281.4" cy="431.6" r="4.1"/><circle cx="283.2" cy="435.8" r="4.1"/><circle cx="284.7" cy="446.4" r="4.1"/><circle cx="286.1" cy="454.9" r="4.1"/><circle cx="287.9" cy="463.4" r="4.1"/><circle cx="289.6" cy="476.8" r="4.1"/><circle cx="291.0" cy="485.3" r="4.1"/><circle cx="293.1" cy="486.7" r="4.1"/><circle cx="294.8" cy="486.7" r="4.1"/><circle cx="296.5" cy="486.7" r="4.1"/><circle cx="298.2" cy="486.7" r="4.1"/><circle cx="299.9" cy="486.7" r="4.1"/><circle cx="301.5" cy="486.7" r="4.1"/><circle cx="303.2" cy="486.7" r="4.1"/><circle cx="304.9" cy="486.7" r="4.1"/><circle cx="306.6" cy="486.7" r="4.1"/><circle cx="162.0" cy="459.2" r="4.1"/><circle cx="166.8" cy="459.4" r="4.1"/><circle cx="170.9" cy="477.6" r="4.1"/><circle cx="308.7" cy="486.0" r="4.1"/><circle cx="310.8" cy="483.2" r="4.1"/><circle cx="312.2" cy="481.1" r="4.1"/><circle cx="313.6" cy="470.5" r="4.1"/><circle cx="315.3" cy="468.3" r="4.1"/><circle cx="317.2" cy="465.5" r="4.1"/><circle cx="318.9" cy="463.4" r="4.1"/><circle cx="320.7" cy="460.6" r="4.1"/><circle cx="322.4" cy="459.1" r="4.1"/><circle cx="324.3" cy="458.7" r="4.1"/>
</g>
<text x="138.7" y="456.6" font-size="18.6" text-anchor="end" textLength="32.4" lengthAdjust="spacingAndGlyphs">200</text>
<text x="138.7" y="493.9" font-size="18.6" text-anchor="end" textLength="10.8" lengthAdjust="spacingAndGlyphs">0</text>
</g>
<g>
<path d="M492.3 429.3v2.0M492.3 433.7v2.0M492.3 438.1v2.0M492.3 446.8v2.0M492.3 451.1v2.0M492.3 455.5v2.0M492.3 459.9v2.0M492.3 468.6v2.0M492.3 472.9v2.0M492.3 477.3v2.0M492.3 481.7v2.0M497.9 429.3v2.0M497.9 433.7v2.0M497.9 438.1v2.0M497.9 446.8v2.0M497.9 451.1v2.0M497.9 455.5v2.0M497.9 459.9v2.0M497.9 468.6v2.0M497.9 472.9v2.0M497.9 477.3v2.0M497.9 481.7v2.0M503.4 429.3v2.0M503.4 433.7v2.0M503.4 438.1v2.0M503.4 446.8v2.0M503.4 451.1v2.0M503.4 455.5v2.0M503.4 459.9v2.0M503.4 468.6v2.0M503.4 472.9v2.0M503.4 477.3v2.0M503.4 481.7v2.0M509.0 429.3v2.0M509.0 433.7v2.0M509.0 438.1v2.0M509.0 446.8v2.0M509.0 451.1v2.0M509.0 455.5v2.0M509.0 459.9v2.0M509.0 468.6v2.0M509.0 472.9v2.0M509.0 477.3v2.0M509.0 481.7v2.0M514.6 429.3v2.0M514.6 433.7v2.0M514.6 438.1v2.0M514.6 446.8v2.0M514.6 451.1v2.0M514.6 455.5v2.0M514.6 459.9v2.0M514.6 468.6v2.0M514.6 472.9v2.0M514.6 477.3v2.0M514.6 481.7v2.0M520.2 429.3v2.0M520.2 433.7v2.0M520.2 438.1v2.0M520.2 446.8v2.0M520.2 451.1v2.0M520.2 455.5v2.0M520.2 459.9v2.0M520.2 468.6v2.0M520.2 472.9v2.0M520.2 477.3v2.0M520.2 481.7v2.0M525.7 429.3v2.0M525.7 433.7v2.0M525.7 438.1v2.0M525.7 446.8v2.0M525.7 451.1v2.0M525.7 455.5v2.0M525.7 459.9v2.0M525.7 468.6v2.0M525.7 472.9v2.0M525.7 477.3v2.0M525.7 481.7v2.0M531.3 429.3v2.0M531.3 433.7v2.0M531.3 438.1v2.0M531.3 446.8v2.0M531.3 451.1v2.0M531.3 455.5v2.0M531.3 459.9v2.0M531.3 468.6v2.0M531.3 472.9v2.0M531.3 477.3v2.0M531.3 481.7v2.0M536.9 429.3v2.0M536.9 433.7v2.0M536.9 438.1v2.0M536.9 446.8v2.0M536.9 451.1v2.0M536.9 455.5v2.0M536.9 459.9v2.0M536.9 468.6v2.0M536.9 472.9v2.0M536.9 477.3v2.0M536.9 481.7v2.0M542.5 429.3v2.0M542.5 433.7v2.0M542.5 438.1v2.0M542.5 446.8v2.0M542.5 451.1v2.0M542.5 455.5v2.0M542.5 459.9v2.0M542.5 468.6v2.0M542.5 472.9v2.0M542.5 477.3v2.0M542.5 481.7v2.0M548.0 429.3v2.0M548.0 433.7v2.0M548.0 438.1v2.0M548.0 446.8v2.0M548.0 451.1v2.0M548.0 455.5v2.0M548.0 459.9v2.0M548.0 468.6v2.0M548.0 472.9v2.0M548.0 477.3v2.0M548.0 481.7v2.0M553.6 429.3v2.0M553.6 433.7v2.0M553.6 438.1v2.0M553.6 446.8v2.0M553.6 451.1v2.0M553.6 455.5v2.0M553.6 459.9v2.0M553.6 468.6v2.0M553.6 472.9v2.0M553.6 477.3v2.0M553.6 481.7v2.0M559.2 429.3v2.0M559.2 433.7v2.0M559.2 438.1v2.0M559.2 446.8v2.0M559.2 451.1v2.0M559.2 455.5v2.0M559.2 459.9v2.0M559.2 468.6v2.0M559.2 472.9v2.0M559.2 477.3v2.0M559.2 481.7v2.0M564.7 429.3v2.0M564.7 433.7v2.0M564.7 438.1v2.0M564.7 446.8v2.0M564.7 451.1v2.0M564.7 455.5v2.0M564.7 459.9v2.0M564.7 468.6v2.0M564.7 472.9v2.0M564.7 477.3v2.0M564.7 481.7v2.0M570.3 429.3v2.0M570.3 433.7v2.0M570.3 438.1v2.0M570.3 446.8v2.0M570.3 451.1v2.0M570.3 455.5v2.0M570.3 459.9v2.0M570.3 468.6v2.0M570.3 472.9v2.0M570.3 477.3v2.0M570.3 481.7v2.0M575.9 429.3v2.0M575.9 433.7v2.0M575.9 438.1v2.0M575.9 446.8v2.0M575.9 451.1v2.0M575.9 455.5v2.0M575.9 459.9v2.0M575.9 468.6v2.0M575.9 472.9v2.0M575.9 477.3v2.0M575.9 481.7v2.0M581.5 429.3v2.0M581.5 433.7v2.0M581.5 438.1v2.0M581.5 446.8v2.0M581.5 451.1v2.0M581.5 455.5v2.0M581.5 459.9v2.0M581.5 468.6v2.0M581.5 472.9v2.0M581.5 477.3v2.0M581.5 481.7v2.0M587.0 429.3v2.0M587.0 433.7v2.0M587.0 438.1v2.0M587.0 446.8v2.0M587.0 451.1v2.0M587.0 455.5v2.0M587.0 459.9v2.0M587.0 468.6v2.0M587.0 472.9v2.0M587.0 477.3v2.0M587.0 481.7v2.0M592.6 429.3v2.0M592.6 433.7v2.0M592.6 438.1v2.0M592.6 446.8v2.0M592.6 451.1v2.0M592.6 455.5v2.0M592.6 459.9v2.0M592.6 468.6v2.0M592.6 472.9v2.0M592.6 477.3v2.0M592.6 481.7v2.0M598.2 429.3v2.0M598.2 433.7v2.0M598.2 438.1v2.0M598.2 446.8v2.0M598.2 451.1v2.0M598.2 455.5v2.0M598.2 459.9v2.0M598.2 468.6v2.0M598.2 472.9v2.0M598.2 477.3v2.0M598.2 481.7v2.0M603.8 429.3v2.0M603.8 433.7v2.0M603.8 438.1v2.0M603.8 446.8v2.0M603.8 451.1v2.0M603.8 455.5v2.0M603.8 459.9v2.0M603.8 468.6v2.0M603.8 472.9v2.0M603.8 477.3v2.0M603.8 481.7v2.0M609.3 429.3v2.0M609.3 433.7v2.0M609.3 438.1v2.0M609.3 446.8v2.0M609.3 451.1v2.0M609.3 455.5v2.0M609.3 459.9v2.0M609.3 468.6v2.0M609.3 472.9v2.0M609.3 477.3v2.0M609.3 481.7v2.0M614.9 429.3v2.0M614.9 433.7v2.0M614.9 438.1v2.0M614.9 446.8v2.0M614.9 451.1v2.0M614.9 455.5v2.0M614.9 459.9v2.0M614.9 468.6v2.0M614.9 472.9v2.0M614.9 477.3v2.0M614.9 481.7v2.0M620.5 429.3v2.0M620.5 433.7v2.0M620.5 438.1v2.0M620.5 446.8v2.0M620.5 451.1v2.0M620.5 455.5v2.0M620.5 459.9v2.0M620.5 468.6v2.0M620.5 472.9v2.0M620.5 477.3v2.0M620.5 481.7v2.0M626.1 429.3v2.0M626.1 433.7v2.0M626.1 438.1v2.0M626.1 446.8v2.0M626.1 451.1v2.0M626.1 455.5v2.0M626.1 459.9v2.0M626.1 468.6v2.0M626.1 472.9v2.0M626.1 477.3v2.0M626.1 481.7v2.0M631.6 429.3v2.0M631.6 433.7v2.0M631.6 438.1v2.0M631.6 446.8v2.0M631.6 451.1v2.0M631.6 455.5v2.0M631.6 459.9v2.0M631.6 468.6v2.0M631.6 472.9v2.0M631.6 477.3v2.0M631.6 481.7v2.0M637.2 429.3v2.0M637.2 433.7v2.0M637.2 438.1v2.0M637.2 446.8v2.0M637.2 451.1v2.0M637.2 455.5v2.0M637.2 459.9v2.0M637.2 468.6v2.0M637.2 472.9v2.0M637.2 477.3v2.0M637.2 481.7v2.0M642.8 429.3v2.0M642.8 433.7v2.0M642.8 438.1v2.0M642.8 446.8v2.0M642.8 451.1v2.0M642.8 455.5v2.0M642.8 459.9v2.0M642.8 468.6v2.0M642.8 472.9v2.0M642.8 477.3v2.0M642.8 481.7v2.0M648.3 429.3v2.0M648.3 433.7v2.0M648.3 438.1v2.0M648.3 446.8v2.0M648.3 451.1v2.0M648.3 455.5v2.0M648.3 459.9v2.0M648.3 468.6v2.0M648.3 472.9v2.0M648.3 477.3v2.0M648.3 481.7v2.0M653.9 429.3v2.0M653.9 433.7v2.0M653.9 438.1v2.0M653.9 446.8v2.0M653.9 451.1v2.0M653.9 455.5v2.0M653.9 459.9v2.0M653.9 468.6v2.0M653.9 472.9v2.0M653.9 477.3v2.0M653.9 481.7v2.0M659.5 429.3v2.0M659.5 433.7v2.0M659.5 438.1v2.0M659.5 446.8v2.0M659.5 451.1v2.0M659.5 455.5v2.0M659.5 459.9v2.0M659.5 468.6v2.0M659.5 472.9v2.0M659.5 477.3v2.0M659.5 481.7v2.0M665.1 429.3v2.0M665.1 433.7v2.0M665.1 438.1v2.0M665.1 446.8v2.0M665.1 451.1v2.0M665.1 455.5v2.0M665.1 459.9v2.0M665.1 468.6v2.0M665.1 472.9v2.0M665.1 477.3v2.0M665.1 481.7v2.0M670.6 429.3v2.0M670.6 433.7v2.0M670.6 438.1v2.0M670.6 446.8v2.0M670.6 451.1v2.0M670.6 455.5v2.0M670.6 459.9v2.0M670.6 468.6v2.0M670.6 472.9v2.0M670.6 477.3v2.0M670.6 481.7v2.0M676.2 429.3v2.0M676.2 433.7v2.0M676.2 438.1v2.0M676.2 446.8v2.0M676.2 451.1v2.0M676.2 455.5v2.0M676.2 459.9v2.0M676.2 468.6v2.0M676.2 472.9v2.0M676.2 477.3v2.0M676.2 481.7v2.0M681.8 429.3v2.0M681.8 433.7v2.0M681.8 438.1v2.0M681.8 446.8v2.0M681.8 451.1v2.0M681.8 455.5v2.0M681.8 459.9v2.0M681.8 468.6v2.0M681.8 472.9v2.0M681.8 477.3v2.0M681.8 481.7v2.0M687.4 429.3v2.0M687.4 433.7v2.0M687.4 438.1v2.0M687.4 446.8v2.0M687.4 451.1v2.0M687.4 455.5v2.0M687.4 459.9v2.0M687.4 468.6v2.0M687.4 472.9v2.0M687.4 477.3v2.0M687.4 481.7v2.0M692.9 429.3v2.0M692.9 433.7v2.0M692.9 438.1v2.0M692.9 446.8v2.0M692.9 451.1v2.0M692.9 455.5v2.0M692.9 459.9v2.0M692.9 468.6v2.0M692.9 472.9v2.0M692.9 477.3v2.0M692.9 481.7v2.0" stroke="#b2b2b2" stroke-width="1.2" fill="none"/>
<path d="M492.3 427.4V486.9M497.9 427.4V486.9M503.4 427.4V486.9M509.0 427.4V486.9M514.6 427.4V486.9M520.2 427.4V486.9M525.7 427.4V486.9M531.3 427.4V486.9M536.9 427.4V486.9M542.5 427.4V486.9M548.0 427.4V486.9M553.6 427.4V486.9M559.2 427.4V486.9M564.7 427.4V486.9M570.3 427.4V486.9M575.9 427.4V486.9M581.5 427.4V486.9M587.0 427.4V486.9M592.6 427.4V486.9M598.2 427.4V486.9M603.8 427.4V486.9M609.3 427.4V486.9M614.9 427.4V486.9M620.5 427.4V486.9M626.1 427.4V486.9M631.6 427.4V486.9M637.2 427.4V486.9M642.8 427.4V486.9M648.3 427.4V486.9M653.9 427.4V486.9M659.5 427.4V486.9M665.1 427.4V486.9M670.6 427.4V486.9M676.2 427.4V486.9M681.8 427.4V486.9M687.4 427.4V486.9M692.9 427.4V486.9" stroke="#000" stroke-width="1" fill="none" opacity="0.015"/>
<path d="M532.4 427.4V486.9M574.1 427.4V486.9M615.9 427.4V486.9M657.6 427.4V486.9M490.6 443.4H699.0M490.6 465.2H699.0" stroke="#d8d8d8" stroke-width="2" fill="none"/>
<path d="M532.4 427.4v3.2M532.4 486.9v-3.2M574.1 427.4v3.2M574.1 486.9v-3.2M615.9 427.4v3.2M615.9 486.9v-3.2M657.6 427.4v3.2M657.6 486.9v-3.2M490.6 443.4h3.2M699.0 443.4h-3.2M490.6 465.2h3.2M699.0 465.2h-3.2" stroke="#262626" stroke-width="1.8" fill="none"/>
<rect x="490.6" y="427.4" width="208.4" height="59.5" fill="none" stroke="#262626" stroke-width="2.2"/>
<g fill="none" stroke="#0072BD" stroke-width="2.2">
<circle cx="500.8" cy="487.4" r="4.1"/><circle cx="502.4" cy="474.0" r="4.1"/><circle cx="504.1" cy="460.6" r="4.1"/><circle cx="505.5" cy="446.4" r="4.1"/><circle cx="506.9" cy="445.0" r="4.1"/><circle cx="508.3" cy="443.6" r="4.1"/><circle cx="509.8" cy="442.4" r="4.1"/><circle cx="511.2" cy="441.5" r="4.1"/><circle cx="513.3" cy="454.5" r="4.1"/><circle cx="514.7" cy="469.0" r="4.1"/><circle cx="516.1" cy="483.9" r="4.1"/><circle cx="517.8" cy="483.9" r="4.1"/><circle cx="519.7" cy="484.2" r="4.1"/><circle cx="521.8" cy="485.3" r="4.1"/><circle cx="523.9" cy="486.7" r="4.1"/><circle cx="526.0" cy="487.4" r="4.1"/><circle cx="527.7" cy="487.4" r="4.1"/><circle cx="529.4" cy="487.4" r="4.1"/><circle cx="531.0" cy="487.4" r="4.1"/><circle cx="532.7" cy="487.4" r="4.1"/><circle cx="534.4" cy="487.4" r="4.1"/><circle cx="536.0" cy="487.4" r="4.1"/><circle cx="537.7" cy="487.4" r="4.1"/><circle cx="539.4" cy="487.4" r="4.1"/><circle cx="541.1" cy="487.4" r="4.1"/><circle cx="542.7" cy="487.4" r="4.1"/><circle cx="544.4" cy="487.4" r="4.1"/><circle cx="544.1" cy="476.5" r="4.1"/><circle cx="545.8" cy="466.2" r="4.1"/><circle cx="547.5" cy="454.2" r="4.1"/><circle cx="549.4" cy="446.0" r="4.1"/><circle cx="551.1" cy="436.5" r="4.1"/><circle cx="552.9" cy="427.3" r="4.1"/><circle cx="554.6" cy="439.3" r="4.1"/><circle cx="556.4" cy="448.5" r="4.1"/><circle cx="557.8" cy="454.2" r="4.1"/><circle cx="559.3" cy="458.4" r="4.1"/><circle cx="560.4" cy="462.0" r="4.1"/><circle cx="561.5" cy="464.8" r="4.1"/><circle cx="562.7" cy="467.6" r="4.1"/><circle cx="563.8" cy="470.5" r="4.1"/><circle cx="564.9" cy="473.3" r="4.1"/><circle cx="566.0" cy="476.8" r="4.1"/><circle cx="567.2" cy="480.4" r="4.1"/><circle cx="568.5" cy="485.3" r="4.1"/><circle cx="569.9" cy="487.4" r="4.1"/><circle cx="571.6" cy="487.4" r="4.1"/><circle cx="573.4" cy="487.4" r="4.1"/><circle cx="575.2" cy="487.4" r="4.1"/><circle cx="576.9" cy="487.4" r="4.1"/><circle cx="578.7" cy="487.4" r="4.1"/><circle cx="580.5" cy="487.4" r="4.1"/><circle cx="582.2" cy="487.4" r="4.1"/><circle cx="584.0" cy="487.4" r="4.1"/><circle cx="585.7" cy="478.2" r="4.1"/><circle cx="587.5" cy="469.7" r="4.1"/><circle cx="589.2" cy="464.1" r="4.1"/><circle cx="591.1" cy="452.1" r="4.1"/><circle cx="592.5" cy="441.5" r="4.1"/><circle cx="594.2" cy="430.9" r="4.1"/><circle cx="594.2" cy="430.1" r="4.1"/><circle cx="595.7" cy="433.7" r="4.1"/><circle cx="597.1" cy="436.5" r="4.1"/><circle cx="598.2" cy="439.3" r="4.1"/><circle cx="599.6" cy="442.2" r="4.1"/><circle cx="601.0" cy="449.2" r="4.1"/><circle cx="602.7" cy="457.7" r="4.1"/><circle cx="604.6" cy="466.2" r="4.1"/><circle cx="606.3" cy="474.0" r="4.1"/><circle cx="608.1" cy="480.4" r="4.1"/><circle cx="609.8" cy="486.0" r="4.1"/><circle cx="611.9" cy="487.4" r="4.1"/><circle cx="613.8" cy="487.4" r="4.1"/><circle cx="615.6" cy="487.4" r="4.1"/><circle cx="617.5" cy="487.4" r="4.1"/><circle cx="619.3" cy="487.4" r="4.1"/><circle cx="621.2" cy="487.4" r="4.1"/><circle cx="623.1" cy="487.4" r="4.1"/><circle cx="624.9" cy="487.4" r="4.1"/><circle cx="626.8" cy="487.4" r="4.1"/><circle cx="627.9" cy="482.5" r="4.1"/><circle cx="629.6" cy="478.2" r="4.1"/><circle cx="631.0" cy="474.7" r="4.1"/><circle cx="632.4" cy="466.2" r="4.1"/><circle cx="633.1" cy="456.3" r="4.1"/><circle cx="635.0" cy="454.9" r="4.1"/><circle cx="636.0" cy="446.4" r="4.1"/><circle cx="637.4" cy="449.2" r="4.1"/><circle cx="638.8" cy="452.1" r="4.1"/><circle cx="640.2" cy="454.9" r="4.1"/><circle cx="641.6" cy="458.4" r="4.1"/><circle cx="643.0" cy="462.7" r="4.1"/><circle cx="644.5" cy="466.9" r="4.1"/><circle cx="645.9" cy="471.2" r="4.1"/><circle cx="647.3" cy="475.4" r="4.1"/><circle cx="648.7" cy="479.6" r="4.1"/><circle cx="650.1" cy="483.2" r="4.1"/><circle cx="651.5" cy="486.7" r="4.1"/><circle cx="653.6" cy="487.4" r="4.1"/><circle cx="655.4" cy="487.4" r="4.1"/><circle cx="657.2" cy="487.4" r="4.1"/><circle cx="659.0" cy="487.4" r="4.1"/><circle cx="660.7" cy="487.4" r="4.1"/><circle cx="662.5" cy="487.4" r="4.1"/><circle cx="664.3" cy="487.4" r="4.1"/><circle cx="666.0" cy="487.4" r="4.1"/><circle cx="667.8" cy="487.4" r="4.1"/>
</g>
<text x="482.1" y="450.4" font-size="18.6" text-anchor="end" textLength="32.4" lengthAdjust="spacingAndGlyphs">100</text>
<text x="482.1" y="472.2" font-size="18.6" text-anchor="end" textLength="21.6" lengthAdjust="spacingAndGlyphs">50</text>
<text x="482.1" y="493.9" font-size="18.6" text-anchor="end" textLength="10.8" lengthAdjust="spacingAndGlyphs">0</text>
</g>
<text transform="translate(150.1 501.1) rotate(-45)" x="0" y="13.0" font-size="18.6" text-anchor="end" textLength="49" lengthAdjust="spacingAndGlyphs">01/31</text>
<text transform="translate(191.9 501.1) rotate(-45)" x="0" y="13.0" font-size="18.6" text-anchor="end" textLength="49" lengthAdjust="spacingAndGlyphs">02/01</text>
<text transform="translate(233.6 501.1) rotate(-45)" x="0" y="13.0" font-size="18.6" text-anchor="end" textLength="49" lengthAdjust="spacingAndGlyphs">02/02</text>
<text transform="translate(275.4 501.1) rotate(-45)" x="0" y="13.0" font-size="18.6" text-anchor="end" textLength="49" lengthAdjust="spacingAndGlyphs">02/03</text>
<text transform="translate(317.1 501.1) rotate(-45)" x="0" y="13.0" font-size="18.6" text-anchor="end" textLength="49" lengthAdjust="spacingAndGlyphs">02/04</text>
<text transform="translate(358.9 501.1) rotate(-45)" x="0" y="13.0" font-size="18.6" text-anchor="end" textLength="49" lengthAdjust="spacingAndGlyphs">02/05</text>
<text transform="translate(493.5 501.1) rotate(-45)" x="0" y="13.0" font-size="18.6" text-anchor="end" textLength="49" lengthAdjust="spacingAndGlyphs">01/31</text>
<text transform="translate(535.3 501.1) rotate(-45)" x="0" y="13.0" font-size="18.6" text-anchor="end" textLength="49" lengthAdjust="spacingAndGlyphs">02/01</text>
<text transform="translate(577.0 501.1) rotate(-45)" x="0" y="13.0" font-size="18.6" text-anchor="end" textLength="49" lengthAdjust="spacingAndGlyphs">02/02</text>
<text transform="translate(618.8 501.1) rotate(-45)" x="0" y="13.0" font-size="18.6" text-anchor="end" textLength="49" lengthAdjust="spacingAndGlyphs">02/03</text>
<text transform="translate(660.5 501.1) rotate(-45)" x="0" y="13.0" font-size="18.6" text-anchor="end" textLength="49" lengthAdjust="spacingAndGlyphs">02/04</text>
<text transform="translate(702.3 501.1) rotate(-45)" x="0" y="13.0" font-size="18.6" text-anchor="end" textLength="49" lengthAdjust="spacingAndGlyphs">02/05</text>
<text x="250.8" y="575.6" font-size="20" text-anchor="middle" textLength="50.5" lengthAdjust="spacingAndGlyphs">Time</text>
<text x="594.4" y="575.6" font-size="20" text-anchor="middle" textLength="50.5" lengthAdjust="spacingAndGlyphs">Time</text>
<text x="251.5" y="32" font-size="20.8" font-weight="bold" fill="#000" text-anchor="middle" textLength="181.4" lengthAdjust="spacingAndGlyphs">Figure 2 medium</text>
<text transform="translate(83.9 73.9) rotate(-90)" x="0" y="0" font-size="21" text-anchor="middle" textLength="101.0" lengthAdjust="spacingAndGlyphs">PRESSURE</text>
<text transform="translate(437.6 74.2) rotate(-90)" x="0" y="0" font-size="21" text-anchor="middle" textLength="66.3" lengthAdjust="spacingAndGlyphs">THETA</text>
<text transform="translate(454.4 201.6) rotate(-90)" x="0" y="0" font-size="21" text-anchor="middle" textLength="96.6" lengthAdjust="spacingAndGlyphs">RAINFALL</text>
<text transform="translate(83.9 329.3) rotate(-90)" x="0" y="0" font-size="21" text-anchor="middle" textLength="108.4" lengthAdjust="spacingAndGlyphs">MIXDEPTH</text>
<text transform="translate(444.4 328.6) rotate(-90)" x="0" y="0" font-size="21" text-anchor="middle" textLength="109.2" lengthAdjust="spacingAndGlyphs">H2OMIXRA</text>
<g transform="translate(85.6 0) rotate(-90)"><text x="-245.5" y="0" font-size="20.4" textLength="33.5" lengthAdjust="spacingAndGlyphs">AIR</text><text x="-211.1" y="10.4" font-size="16.4" textLength="9.5" lengthAdjust="spacingAndGlyphs">T</text><text x="-201.3" y="0" font-size="20.4" textLength="44.3" lengthAdjust="spacingAndGlyphs">EMP</text></g>
<g transform="translate(85.6 0) rotate(-90)"><text x="-502.4" y="0" font-size="20.4" textLength="49.4" lengthAdjust="spacingAndGlyphs">TERR</text><text x="-449.3" y="10.4" font-size="16.4" textLength="14.3" lengthAdjust="spacingAndGlyphs">M</text><text x="-433.1" y="0" font-size="20.4" textLength="20.7" lengthAdjust="spacingAndGlyphs">SL</text></g>
<g transform="translate(398.4 0) rotate(-90)"><text x="-504.0" y="0" font-size="20.4" textLength="43.4" lengthAdjust="spacingAndGlyphs">SUN</text><text x="-458.1" y="10.4" font-size="16.4" textLength="7.2" lengthAdjust="spacingAndGlyphs">F</text><text x="-448.9" y="0" font-size="20.4" textLength="38.1" lengthAdjust="spacingAndGlyphs">LUX</text></g>
</svg>
</body></html>
